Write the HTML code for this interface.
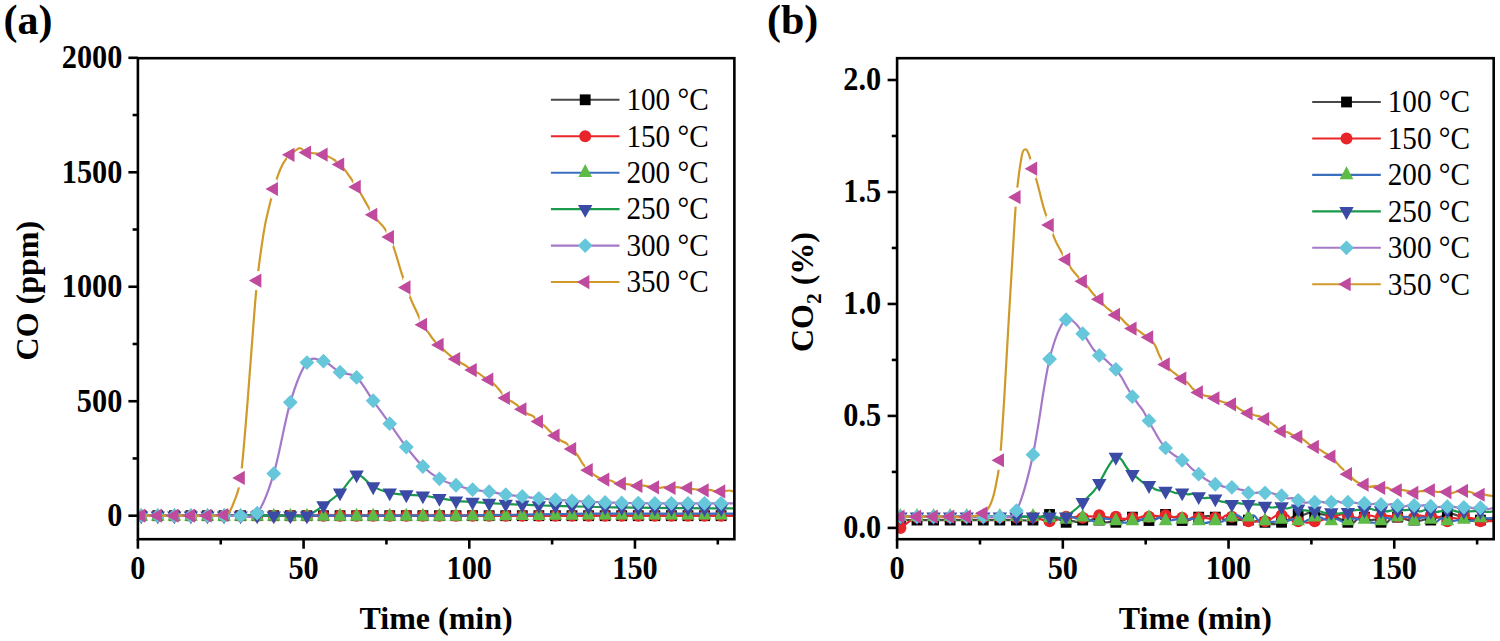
<!DOCTYPE html>
<html><head><meta charset="utf-8"><style>
html,body{margin:0;padding:0;background:#fff;}
svg{display:block;font-family:"Liberation Serif",serif;}
</style></head><body>
<svg width="1500" height="641" viewBox="0 0 1500 641">
<rect width="1500" height="641" fill="#fff"/>
<defs><clipPath id="ca"><rect x="137.90" y="58.20" width="596.47" height="481.00"/></clipPath>
<clipPath id="cb"><rect x="897.10" y="58.20" width="596.59" height="481.00"/></clipPath></defs>
<g clip-path="url(#ca)"><path d="M137.90,515.70 C138.45,515.70 137.90,515.70 141.21,515.70 C144.53,515.70 152.26,515.70 157.78,515.70 C163.31,515.70 168.83,515.70 174.35,515.70 C179.87,515.70 185.40,515.70 190.92,515.70 C196.44,515.70 201.96,515.70 207.49,515.70 C213.01,515.70 218.53,515.70 224.06,515.70 C229.58,515.70 235.10,515.70 240.62,515.70 C246.15,515.70 251.67,515.70 257.19,515.70 C262.72,515.70 268.24,515.70 273.76,515.70 C279.28,515.70 284.81,515.70 290.33,515.70 C295.85,515.70 301.38,515.70 306.90,515.70 C312.42,515.70 317.94,515.70 323.47,515.70 C328.99,515.70 334.51,515.70 340.04,515.70 C345.56,515.70 351.08,515.70 356.60,515.70 C362.13,515.70 367.65,515.70 373.17,515.70 C378.70,515.70 384.22,515.70 389.74,515.70 C395.26,515.70 400.79,515.70 406.31,515.70 C411.83,515.70 417.36,515.70 422.88,515.70 C428.40,515.70 433.92,515.70 439.45,515.70 C444.97,515.70 450.49,515.70 456.02,515.70 C461.54,515.70 467.06,515.70 472.58,515.70 C478.11,515.70 483.63,515.70 489.15,515.70 C494.68,515.70 500.20,515.70 505.72,515.70 C511.24,515.70 516.77,515.70 522.29,515.70 C527.81,515.70 533.33,515.70 538.86,515.70 C544.38,515.70 549.90,515.70 555.43,515.70 C560.95,515.70 566.47,515.70 571.99,515.70 C577.52,515.70 583.04,515.70 588.56,515.70 C594.09,515.70 599.61,515.70 605.13,515.70 C610.65,515.70 616.18,515.70 621.70,515.70 C627.22,515.70 632.75,515.70 638.27,515.70 C643.79,515.70 649.31,515.70 654.84,515.70 C660.36,515.70 665.88,515.70 671.41,515.70 C676.93,515.70 682.45,515.70 687.97,515.70 C693.50,515.70 699.02,515.70 704.54,515.70 C710.07,515.70 716.14,515.70 721.11,515.70 C726.08,515.70 732.16,515.70 734.37,515.70" fill="none" stroke="#484848" stroke-width="2.2" stroke-linejoin="round"/>
<rect x="135.81" y="510.30" width="10.80" height="10.80" fill="#000000"/>
<rect x="152.38" y="510.30" width="10.80" height="10.80" fill="#000000"/>
<rect x="168.95" y="510.30" width="10.80" height="10.80" fill="#000000"/>
<rect x="185.52" y="510.30" width="10.80" height="10.80" fill="#000000"/>
<rect x="202.09" y="510.30" width="10.80" height="10.80" fill="#000000"/>
<rect x="218.66" y="510.30" width="10.80" height="10.80" fill="#000000"/>
<rect x="235.22" y="510.30" width="10.80" height="10.80" fill="#000000"/>
<rect x="251.79" y="510.30" width="10.80" height="10.80" fill="#000000"/>
<rect x="268.36" y="510.30" width="10.80" height="10.80" fill="#000000"/>
<rect x="284.93" y="510.30" width="10.80" height="10.80" fill="#000000"/>
<rect x="301.50" y="510.30" width="10.80" height="10.80" fill="#000000"/>
<rect x="318.07" y="510.30" width="10.80" height="10.80" fill="#000000"/>
<rect x="334.64" y="510.30" width="10.80" height="10.80" fill="#000000"/>
<rect x="351.20" y="510.30" width="10.80" height="10.80" fill="#000000"/>
<rect x="367.77" y="510.30" width="10.80" height="10.80" fill="#000000"/>
<rect x="384.34" y="510.30" width="10.80" height="10.80" fill="#000000"/>
<rect x="400.91" y="510.30" width="10.80" height="10.80" fill="#000000"/>
<rect x="417.48" y="510.30" width="10.80" height="10.80" fill="#000000"/>
<rect x="434.05" y="510.30" width="10.80" height="10.80" fill="#000000"/>
<rect x="450.62" y="510.30" width="10.80" height="10.80" fill="#000000"/>
<rect x="467.18" y="510.30" width="10.80" height="10.80" fill="#000000"/>
<rect x="483.75" y="510.30" width="10.80" height="10.80" fill="#000000"/>
<rect x="500.32" y="510.30" width="10.80" height="10.80" fill="#000000"/>
<rect x="516.89" y="510.30" width="10.80" height="10.80" fill="#000000"/>
<rect x="533.46" y="510.30" width="10.80" height="10.80" fill="#000000"/>
<rect x="550.03" y="510.30" width="10.80" height="10.80" fill="#000000"/>
<rect x="566.59" y="510.30" width="10.80" height="10.80" fill="#000000"/>
<rect x="583.16" y="510.30" width="10.80" height="10.80" fill="#000000"/>
<rect x="599.73" y="510.30" width="10.80" height="10.80" fill="#000000"/>
<rect x="616.30" y="510.30" width="10.80" height="10.80" fill="#000000"/>
<rect x="632.87" y="510.30" width="10.80" height="10.80" fill="#000000"/>
<rect x="649.44" y="510.30" width="10.80" height="10.80" fill="#000000"/>
<rect x="666.01" y="510.30" width="10.80" height="10.80" fill="#000000"/>
<rect x="682.57" y="510.30" width="10.80" height="10.80" fill="#000000"/>
<rect x="699.14" y="510.30" width="10.80" height="10.80" fill="#000000"/>
<rect x="715.71" y="510.30" width="10.80" height="10.80" fill="#000000"/>
<path d="M137.90,515.70 C138.45,515.70 137.90,515.70 141.21,515.70 C144.53,515.70 152.26,515.70 157.78,515.70 C163.31,515.70 168.83,515.70 174.35,515.70 C179.87,515.70 185.40,515.70 190.92,515.70 C196.44,515.70 201.96,515.70 207.49,515.70 C213.01,515.70 218.53,515.70 224.06,515.70 C229.58,515.70 235.10,515.70 240.62,515.70 C246.15,515.70 251.67,515.70 257.19,515.70 C262.72,515.70 268.24,515.70 273.76,515.70 C279.28,515.70 284.81,515.70 290.33,515.70 C295.85,515.70 301.38,515.70 306.90,515.70 C312.42,515.70 317.94,515.70 323.47,515.70 C328.99,515.70 334.51,515.70 340.04,515.70 C345.56,515.70 351.08,515.70 356.60,515.70 C362.13,515.70 367.65,515.70 373.17,515.70 C378.70,515.70 384.22,515.70 389.74,515.70 C395.26,515.70 400.79,515.70 406.31,515.70 C411.83,515.70 417.36,515.70 422.88,515.70 C428.40,515.70 433.92,515.70 439.45,515.70 C444.97,515.70 450.49,515.70 456.02,515.70 C461.54,515.70 467.06,515.70 472.58,515.70 C478.11,515.70 483.63,515.70 489.15,515.70 C494.68,515.70 500.20,515.70 505.72,515.70 C511.24,515.70 516.77,515.70 522.29,515.70 C527.81,515.70 533.33,515.70 538.86,515.70 C544.38,515.70 549.90,515.70 555.43,515.70 C560.95,515.70 566.47,515.70 571.99,515.70 C577.52,515.70 583.04,515.70 588.56,515.70 C594.09,515.70 599.61,515.70 605.13,515.70 C610.65,515.70 616.18,515.70 621.70,515.70 C627.22,515.70 632.75,515.70 638.27,515.70 C643.79,515.70 649.31,515.70 654.84,515.70 C660.36,515.70 665.88,515.70 671.41,515.70 C676.93,515.70 682.45,515.70 687.97,515.70 C693.50,515.70 699.02,515.70 704.54,515.70 C710.07,515.70 716.14,515.70 721.11,515.70 C726.08,515.70 732.16,515.70 734.37,515.70" fill="none" stroke="#e8262a" stroke-width="2.2" stroke-linejoin="round"/>
<circle cx="141.21" cy="515.70" r="6.00" fill="#e8262a"/>
<circle cx="157.78" cy="515.70" r="6.00" fill="#e8262a"/>
<circle cx="174.35" cy="515.70" r="6.00" fill="#e8262a"/>
<circle cx="190.92" cy="515.70" r="6.00" fill="#e8262a"/>
<circle cx="207.49" cy="515.70" r="6.00" fill="#e8262a"/>
<circle cx="224.06" cy="515.70" r="6.00" fill="#e8262a"/>
<circle cx="240.62" cy="515.70" r="6.00" fill="#e8262a"/>
<circle cx="257.19" cy="515.70" r="6.00" fill="#e8262a"/>
<circle cx="273.76" cy="515.70" r="6.00" fill="#e8262a"/>
<circle cx="290.33" cy="515.70" r="6.00" fill="#e8262a"/>
<circle cx="306.90" cy="515.70" r="6.00" fill="#e8262a"/>
<circle cx="323.47" cy="515.70" r="6.00" fill="#e8262a"/>
<circle cx="340.04" cy="515.70" r="6.00" fill="#e8262a"/>
<circle cx="356.60" cy="515.70" r="6.00" fill="#e8262a"/>
<circle cx="373.17" cy="515.70" r="6.00" fill="#e8262a"/>
<circle cx="389.74" cy="515.70" r="6.00" fill="#e8262a"/>
<circle cx="406.31" cy="515.70" r="6.00" fill="#e8262a"/>
<circle cx="422.88" cy="515.70" r="6.00" fill="#e8262a"/>
<circle cx="439.45" cy="515.70" r="6.00" fill="#e8262a"/>
<circle cx="456.02" cy="515.70" r="6.00" fill="#e8262a"/>
<circle cx="472.58" cy="515.70" r="6.00" fill="#e8262a"/>
<circle cx="489.15" cy="515.70" r="6.00" fill="#e8262a"/>
<circle cx="505.72" cy="515.70" r="6.00" fill="#e8262a"/>
<circle cx="522.29" cy="515.70" r="6.00" fill="#e8262a"/>
<circle cx="538.86" cy="515.70" r="6.00" fill="#e8262a"/>
<circle cx="555.43" cy="515.70" r="6.00" fill="#e8262a"/>
<circle cx="571.99" cy="515.70" r="6.00" fill="#e8262a"/>
<circle cx="588.56" cy="515.70" r="6.00" fill="#e8262a"/>
<circle cx="605.13" cy="515.70" r="6.00" fill="#e8262a"/>
<circle cx="621.70" cy="515.70" r="6.00" fill="#e8262a"/>
<circle cx="638.27" cy="515.70" r="6.00" fill="#e8262a"/>
<circle cx="654.84" cy="515.70" r="6.00" fill="#e8262a"/>
<circle cx="671.41" cy="515.70" r="6.00" fill="#e8262a"/>
<circle cx="687.97" cy="515.70" r="6.00" fill="#e8262a"/>
<circle cx="704.54" cy="515.70" r="6.00" fill="#e8262a"/>
<circle cx="721.11" cy="515.70" r="6.00" fill="#e8262a"/>
<path d="M137.90,515.70 C138.45,515.70 137.90,515.70 141.21,515.70 C144.53,515.70 152.26,515.70 157.78,515.70 C163.31,515.70 168.83,515.70 174.35,515.70 C179.87,515.70 185.40,515.70 190.92,515.70 C196.44,515.70 201.96,515.70 207.49,515.70 C213.01,515.70 218.53,515.70 224.06,515.70 C229.58,515.70 235.10,515.70 240.62,515.70 C246.15,515.70 251.67,515.70 257.19,515.70 C262.72,515.70 268.24,515.70 273.76,515.70 C279.28,515.70 284.81,515.70 290.33,515.70 C295.85,515.70 301.38,515.70 306.90,515.70 C312.42,515.70 317.94,515.70 323.47,515.70 C328.99,515.70 334.51,515.70 340.04,515.70 C345.56,515.70 351.08,515.70 356.60,515.70 C362.13,515.70 367.65,515.70 373.17,515.70 C378.70,515.70 384.22,515.70 389.74,515.70 C395.26,515.70 400.79,515.70 406.31,515.70 C411.83,515.70 417.36,515.70 422.88,515.70 C428.40,515.70 433.92,515.71 439.45,515.70 C444.97,515.69 450.49,515.70 456.02,515.65 C461.54,515.60 467.06,515.48 472.58,515.39 C478.11,515.31 483.63,515.22 489.15,515.13 C494.68,515.05 500.20,514.96 505.72,514.88 C511.24,514.79 516.77,514.70 522.29,514.62 C527.81,514.53 533.33,514.45 538.86,514.36 C544.38,514.27 549.90,514.19 555.43,514.10 C560.95,514.02 566.47,513.92 571.99,513.85 C577.52,513.77 583.04,513.67 588.56,513.64 C594.09,513.61 599.61,513.64 605.13,513.64 C610.65,513.64 616.18,513.64 621.70,513.64 C627.22,513.64 632.75,513.64 638.27,513.64 C643.79,513.64 649.31,513.64 654.84,513.64 C660.36,513.64 665.88,513.64 671.41,513.64 C676.93,513.64 682.45,513.64 687.97,513.64 C693.50,513.64 699.02,513.64 704.54,513.64 C710.07,513.64 716.14,513.64 721.11,513.64 C726.08,513.64 732.16,513.64 734.37,513.64" fill="none" stroke="#3a6fc0" stroke-width="2.2" stroke-linejoin="round"/>
<polygon points="141.21,507.72 148.01,520.72 134.41,520.72" fill="#5dbb46"/>
<polygon points="157.78,507.72 164.58,520.72 150.98,520.72" fill="#5dbb46"/>
<polygon points="174.35,507.72 181.15,520.72 167.55,520.72" fill="#5dbb46"/>
<polygon points="190.92,507.72 197.72,520.72 184.12,520.72" fill="#5dbb46"/>
<polygon points="207.49,507.72 214.29,520.72 200.69,520.72" fill="#5dbb46"/>
<polygon points="224.06,507.72 230.86,520.72 217.26,520.72" fill="#5dbb46"/>
<polygon points="240.62,507.72 247.42,520.72 233.82,520.72" fill="#5dbb46"/>
<polygon points="257.19,507.72 263.99,520.72 250.39,520.72" fill="#5dbb46"/>
<polygon points="273.76,507.72 280.56,520.72 266.96,520.72" fill="#5dbb46"/>
<polygon points="290.33,507.72 297.13,520.72 283.53,520.72" fill="#5dbb46"/>
<polygon points="306.90,507.72 313.70,520.72 300.10,520.72" fill="#5dbb46"/>
<polygon points="323.47,507.72 330.27,520.72 316.67,520.72" fill="#5dbb46"/>
<polygon points="340.04,507.72 346.84,520.72 333.24,520.72" fill="#5dbb46"/>
<polygon points="356.60,507.72 363.40,520.72 349.80,520.72" fill="#5dbb46"/>
<polygon points="373.17,507.72 379.97,520.72 366.37,520.72" fill="#5dbb46"/>
<polygon points="389.74,507.72 396.54,520.72 382.94,520.72" fill="#5dbb46"/>
<polygon points="406.31,507.72 413.11,520.72 399.51,520.72" fill="#5dbb46"/>
<polygon points="422.88,507.72 429.68,520.72 416.08,520.72" fill="#5dbb46"/>
<polygon points="439.45,507.72 446.25,520.72 432.65,520.72" fill="#5dbb46"/>
<polygon points="456.02,507.69 462.82,520.69 449.22,520.69" fill="#5dbb46"/>
<polygon points="472.58,507.55 479.38,520.55 465.78,520.55" fill="#5dbb46"/>
<polygon points="489.15,507.41 495.95,520.41 482.35,520.41" fill="#5dbb46"/>
<polygon points="505.72,507.26 512.52,520.26 498.92,520.26" fill="#5dbb46"/>
<polygon points="522.29,507.12 529.09,520.12 515.49,520.12" fill="#5dbb46"/>
<polygon points="538.86,506.98 545.66,519.98 532.06,519.98" fill="#5dbb46"/>
<polygon points="555.43,506.83 562.23,519.83 548.63,519.83" fill="#5dbb46"/>
<polygon points="571.99,506.69 578.79,519.69 565.19,519.69" fill="#5dbb46"/>
<polygon points="588.56,506.58 595.36,519.58 581.76,519.58" fill="#5dbb46"/>
<polygon points="605.13,506.58 611.93,519.58 598.33,519.58" fill="#5dbb46"/>
<polygon points="621.70,506.58 628.50,519.58 614.90,519.58" fill="#5dbb46"/>
<polygon points="638.27,506.58 645.07,519.58 631.47,519.58" fill="#5dbb46"/>
<polygon points="654.84,506.58 661.64,519.58 648.04,519.58" fill="#5dbb46"/>
<polygon points="671.41,506.58 678.21,519.58 664.61,519.58" fill="#5dbb46"/>
<polygon points="687.97,506.58 694.77,519.58 681.17,519.58" fill="#5dbb46"/>
<polygon points="704.54,506.58 711.34,519.58 697.74,519.58" fill="#5dbb46"/>
<polygon points="721.11,506.58 727.91,519.58 714.31,519.58" fill="#5dbb46"/>
<path d="M137.90,515.70 C138.45,515.70 137.90,515.70 141.21,515.70 C144.53,515.70 152.26,515.70 157.78,515.70 C163.31,515.70 168.83,515.70 174.35,515.70 C179.87,515.70 185.40,515.70 190.92,515.70 C196.44,515.70 201.96,515.70 207.49,515.70 C213.01,515.70 218.53,515.70 224.06,515.70 C229.58,515.70 235.10,515.70 240.62,515.70 C246.15,515.70 251.67,515.70 257.19,515.70 C262.72,515.70 268.24,515.70 273.76,515.70 C279.28,515.70 284.81,515.70 290.33,515.70 C295.85,515.70 301.38,517.42 306.90,515.70 C312.42,513.98 317.94,509.21 323.47,505.40 C328.99,501.58 334.51,497.92 340.04,492.81 C345.56,487.69 351.08,475.75 356.60,474.72 C362.13,473.69 367.65,483.61 373.17,486.62 C378.70,489.64 384.22,491.47 389.74,492.81 C395.26,494.14 400.79,494.14 406.31,494.64 C411.83,495.13 417.36,495.17 422.88,495.78 C428.40,496.39 433.92,497.46 439.45,498.30 C444.97,499.14 450.49,500.21 456.02,500.82 C461.54,501.43 467.06,501.58 472.58,501.96 C478.11,502.34 483.63,502.76 489.15,503.11 C494.68,503.45 500.20,503.76 505.72,504.02 C511.24,504.29 516.77,504.48 522.29,504.71 C527.81,504.94 533.33,505.21 538.86,505.40 C544.38,505.59 549.90,505.70 555.43,505.86 C560.95,506.01 566.47,506.16 571.99,506.31 C577.52,506.47 583.04,506.62 588.56,506.77 C594.09,506.92 599.61,507.11 605.13,507.23 C610.65,507.34 616.18,507.38 621.70,507.46 C627.22,507.53 632.75,507.61 638.27,507.69 C643.79,507.76 649.31,507.84 654.84,507.92 C660.36,507.99 665.88,508.11 671.41,508.14 C676.93,508.18 682.45,508.11 687.97,508.14 C693.50,508.18 699.02,508.34 704.54,508.37 C710.07,508.41 716.14,508.37 721.11,508.37 C726.08,508.37 732.16,508.37 734.37,508.37" fill="none" stroke="#1a9a4a" stroke-width="2.2" stroke-linejoin="round"/>
<polygon points="134.01,511.43 148.41,511.43 141.21,524.23" fill="#3b4aa5"/>
<polygon points="150.58,511.43 164.98,511.43 157.78,524.23" fill="#3b4aa5"/>
<polygon points="167.15,511.43 181.55,511.43 174.35,524.23" fill="#3b4aa5"/>
<polygon points="183.72,511.43 198.12,511.43 190.92,524.23" fill="#3b4aa5"/>
<polygon points="200.29,511.43 214.69,511.43 207.49,524.23" fill="#3b4aa5"/>
<polygon points="216.86,511.43 231.26,511.43 224.06,524.23" fill="#3b4aa5"/>
<polygon points="233.42,511.43 247.82,511.43 240.62,524.23" fill="#3b4aa5"/>
<polygon points="249.99,511.43 264.39,511.43 257.19,524.23" fill="#3b4aa5"/>
<polygon points="266.56,511.43 280.96,511.43 273.76,524.23" fill="#3b4aa5"/>
<polygon points="283.13,511.43 297.53,511.43 290.33,524.23" fill="#3b4aa5"/>
<polygon points="299.70,511.43 314.10,511.43 306.90,524.23" fill="#3b4aa5"/>
<polygon points="316.27,501.13 330.67,501.13 323.47,513.93" fill="#3b4aa5"/>
<polygon points="332.84,488.54 347.24,488.54 340.04,501.34" fill="#3b4aa5"/>
<polygon points="349.40,470.45 363.80,470.45 356.60,483.25" fill="#3b4aa5"/>
<polygon points="365.97,482.36 380.37,482.36 373.17,495.16" fill="#3b4aa5"/>
<polygon points="382.54,488.54 396.94,488.54 389.74,501.34" fill="#3b4aa5"/>
<polygon points="399.11,490.37 413.51,490.37 406.31,503.17" fill="#3b4aa5"/>
<polygon points="415.68,491.51 430.08,491.51 422.88,504.31" fill="#3b4aa5"/>
<polygon points="432.25,494.03 446.65,494.03 439.45,506.83" fill="#3b4aa5"/>
<polygon points="448.82,496.55 463.22,496.55 456.02,509.35" fill="#3b4aa5"/>
<polygon points="465.38,497.70 479.78,497.70 472.58,510.50" fill="#3b4aa5"/>
<polygon points="481.95,498.84 496.35,498.84 489.15,511.64" fill="#3b4aa5"/>
<polygon points="498.52,499.76 512.92,499.76 505.72,512.56" fill="#3b4aa5"/>
<polygon points="515.09,500.44 529.49,500.44 522.29,513.24" fill="#3b4aa5"/>
<polygon points="531.66,501.13 546.06,501.13 538.86,513.93" fill="#3b4aa5"/>
<polygon points="548.23,501.59 562.63,501.59 555.43,514.39" fill="#3b4aa5"/>
<polygon points="564.79,502.05 579.19,502.05 571.99,514.85" fill="#3b4aa5"/>
<polygon points="581.36,502.50 595.76,502.50 588.56,515.30" fill="#3b4aa5"/>
<polygon points="597.93,502.96 612.33,502.96 605.13,515.76" fill="#3b4aa5"/>
<polygon points="614.50,503.19 628.90,503.19 621.70,515.99" fill="#3b4aa5"/>
<polygon points="631.07,503.42 645.47,503.42 638.27,516.22" fill="#3b4aa5"/>
<polygon points="647.64,503.65 662.04,503.65 654.84,516.45" fill="#3b4aa5"/>
<polygon points="664.21,503.88 678.61,503.88 671.41,516.68" fill="#3b4aa5"/>
<polygon points="680.77,503.88 695.17,503.88 687.97,516.68" fill="#3b4aa5"/>
<polygon points="697.34,504.11 711.74,504.11 704.54,516.91" fill="#3b4aa5"/>
<polygon points="713.91,504.11 728.31,504.11 721.11,516.91" fill="#3b4aa5"/>
<path d="M137.90,515.70 C138.45,515.70 137.90,515.70 141.21,515.70 C144.53,515.70 152.26,515.70 157.78,515.70 C163.31,515.70 168.83,515.70 174.35,515.70 C179.87,515.70 185.40,515.70 190.92,515.70 C196.44,515.70 201.96,515.70 207.49,515.70 C213.01,515.70 218.53,515.70 224.06,515.70 C229.58,515.70 235.10,516.12 240.62,515.70 C246.15,515.28 251.67,520.20 257.19,513.18 C262.72,506.16 268.24,492.04 273.76,473.57 C279.28,455.10 284.81,420.88 290.33,402.37 C295.85,383.86 301.38,369.40 306.90,362.53 C312.42,355.66 317.94,359.56 323.47,361.16 C328.99,362.76 334.51,369.44 340.04,372.15 C345.56,374.86 351.08,372.64 356.60,377.41 C362.13,382.18 367.65,393.06 373.17,400.77 C378.70,408.48 384.22,415.95 389.74,423.66 C395.26,431.37 400.79,439.88 406.31,447.02 C411.83,454.15 417.36,461.17 422.88,466.48 C428.40,471.78 433.92,475.71 439.45,478.84 C444.97,481.97 450.49,483.46 456.02,485.25 C461.54,487.04 467.06,488.53 472.58,489.60 C478.11,490.67 483.63,490.82 489.15,491.66 C494.68,492.50 500.20,493.84 505.72,494.64 C511.24,495.44 516.77,495.86 522.29,496.47 C527.81,497.08 533.33,497.77 538.86,498.30 C544.38,498.83 549.90,499.25 555.43,499.67 C560.95,500.09 566.47,500.47 571.99,500.82 C577.52,501.16 583.04,501.47 588.56,501.73 C594.09,502.00 599.61,502.23 605.13,502.42 C610.65,502.61 616.18,502.76 621.70,502.88 C627.22,502.99 632.75,503.03 638.27,503.11 C643.79,503.18 649.31,503.30 654.84,503.34 C660.36,503.37 665.88,503.34 671.41,503.34 C676.93,503.34 682.45,503.34 687.97,503.34 C693.50,503.34 699.02,503.34 704.54,503.34 C710.07,503.34 716.14,503.34 721.11,503.34 C726.08,503.34 732.16,503.34 734.37,503.34" fill="none" stroke="#a678c8" stroke-width="2.2" stroke-linejoin="round"/>
<polygon points="141.21,508.30 148.61,515.70 141.21,523.10 133.81,515.70" fill="#66c6da"/>
<polygon points="157.78,508.30 165.18,515.70 157.78,523.10 150.38,515.70" fill="#66c6da"/>
<polygon points="174.35,508.30 181.75,515.70 174.35,523.10 166.95,515.70" fill="#66c6da"/>
<polygon points="190.92,508.30 198.32,515.70 190.92,523.10 183.52,515.70" fill="#66c6da"/>
<polygon points="207.49,508.30 214.89,515.70 207.49,523.10 200.09,515.70" fill="#66c6da"/>
<polygon points="224.06,508.30 231.46,515.70 224.06,523.10 216.66,515.70" fill="#66c6da"/>
<polygon points="240.62,508.30 248.02,515.70 240.62,523.10 233.22,515.70" fill="#66c6da"/>
<polygon points="257.19,505.78 264.59,513.18 257.19,520.58 249.79,513.18" fill="#66c6da"/>
<polygon points="273.76,466.17 281.16,473.57 273.76,480.97 266.36,473.57" fill="#66c6da"/>
<polygon points="290.33,394.97 297.73,402.37 290.33,409.77 282.93,402.37" fill="#66c6da"/>
<polygon points="306.90,355.13 314.30,362.53 306.90,369.93 299.50,362.53" fill="#66c6da"/>
<polygon points="323.47,353.76 330.87,361.16 323.47,368.56 316.07,361.16" fill="#66c6da"/>
<polygon points="340.04,364.75 347.44,372.15 340.04,379.55 332.64,372.15" fill="#66c6da"/>
<polygon points="356.60,370.01 364.00,377.41 356.60,384.81 349.20,377.41" fill="#66c6da"/>
<polygon points="373.17,393.37 380.57,400.77 373.17,408.17 365.77,400.77" fill="#66c6da"/>
<polygon points="389.74,416.26 397.14,423.66 389.74,431.06 382.34,423.66" fill="#66c6da"/>
<polygon points="406.31,439.62 413.71,447.02 406.31,454.42 398.91,447.02" fill="#66c6da"/>
<polygon points="422.88,459.08 430.28,466.48 422.88,473.88 415.48,466.48" fill="#66c6da"/>
<polygon points="439.45,471.44 446.85,478.84 439.45,486.24 432.05,478.84" fill="#66c6da"/>
<polygon points="456.02,477.85 463.42,485.25 456.02,492.65 448.62,485.25" fill="#66c6da"/>
<polygon points="472.58,482.20 479.98,489.60 472.58,497.00 465.18,489.60" fill="#66c6da"/>
<polygon points="489.15,484.26 496.55,491.66 489.15,499.06 481.75,491.66" fill="#66c6da"/>
<polygon points="505.72,487.24 513.12,494.64 505.72,502.04 498.32,494.64" fill="#66c6da"/>
<polygon points="522.29,489.07 529.69,496.47 522.29,503.87 514.89,496.47" fill="#66c6da"/>
<polygon points="538.86,490.90 546.26,498.30 538.86,505.70 531.46,498.30" fill="#66c6da"/>
<polygon points="555.43,492.27 562.83,499.67 555.43,507.07 548.03,499.67" fill="#66c6da"/>
<polygon points="571.99,493.42 579.39,500.82 571.99,508.22 564.59,500.82" fill="#66c6da"/>
<polygon points="588.56,494.33 595.96,501.73 588.56,509.13 581.16,501.73" fill="#66c6da"/>
<polygon points="605.13,495.02 612.53,502.42 605.13,509.82 597.73,502.42" fill="#66c6da"/>
<polygon points="621.70,495.48 629.10,502.88 621.70,510.28 614.30,502.88" fill="#66c6da"/>
<polygon points="638.27,495.71 645.67,503.11 638.27,510.51 630.87,503.11" fill="#66c6da"/>
<polygon points="654.84,495.94 662.24,503.34 654.84,510.74 647.44,503.34" fill="#66c6da"/>
<polygon points="671.41,495.94 678.81,503.34 671.41,510.74 664.01,503.34" fill="#66c6da"/>
<polygon points="687.97,495.94 695.37,503.34 687.97,510.74 680.57,503.34" fill="#66c6da"/>
<polygon points="704.54,495.94 711.94,503.34 704.54,510.74 697.14,503.34" fill="#66c6da"/>
<polygon points="721.11,495.94 728.51,503.34 721.11,510.74 713.71,503.34" fill="#66c6da"/>
<mask id="max350" maskUnits="userSpaceOnUse" x="0" y="0" width="1500" height="641"><rect width="1500" height="641" fill="#fff"/><rect x="137.91" y="506.20" width="6.60" height="19.00" fill="#000"/><rect x="154.48" y="506.20" width="6.60" height="19.00" fill="#000"/><rect x="171.05" y="506.20" width="6.60" height="19.00" fill="#000"/><rect x="187.62" y="506.20" width="6.60" height="19.00" fill="#000"/><rect x="204.19" y="506.20" width="6.60" height="19.00" fill="#000"/><rect x="220.76" y="505.51" width="6.60" height="19.00" fill="#000"/><rect x="237.32" y="468.42" width="6.60" height="19.00" fill="#000"/><rect x="253.89" y="271.07" width="6.60" height="19.00" fill="#000"/><rect x="270.46" y="179.49" width="6.60" height="19.00" fill="#000"/><rect x="287.03" y="145.37" width="6.60" height="19.00" fill="#000"/><rect x="303.60" y="143.09" width="6.60" height="19.00" fill="#000"/><rect x="320.17" y="145.15" width="6.60" height="19.00" fill="#000"/><rect x="336.74" y="154.99" width="6.60" height="19.00" fill="#000"/><rect x="353.30" y="177.43" width="6.60" height="19.00" fill="#000"/><rect x="369.87" y="205.36" width="6.60" height="19.00" fill="#000"/><rect x="386.44" y="227.57" width="6.60" height="19.00" fill="#000"/><rect x="403.01" y="277.94" width="6.60" height="19.00" fill="#000"/><rect x="419.58" y="315.26" width="6.60" height="19.00" fill="#000"/><rect x="436.15" y="335.40" width="6.60" height="19.00" fill="#000"/><rect x="452.72" y="349.60" width="6.60" height="19.00" fill="#000"/><rect x="469.28" y="360.59" width="6.60" height="19.00" fill="#000"/><rect x="485.85" y="370.20" width="6.60" height="19.00" fill="#000"/><rect x="502.42" y="388.52" width="6.60" height="19.00" fill="#000"/><rect x="518.99" y="399.74" width="6.60" height="19.00" fill="#000"/><rect x="535.56" y="412.10" width="6.60" height="19.00" fill="#000"/><rect x="552.13" y="426.07" width="6.60" height="19.00" fill="#000"/><rect x="568.69" y="439.58" width="6.60" height="19.00" fill="#000"/><rect x="585.26" y="460.64" width="6.60" height="19.00" fill="#000"/><rect x="601.83" y="470.03" width="6.60" height="19.00" fill="#000"/><rect x="618.40" y="474.15" width="6.60" height="19.00" fill="#000"/><rect x="634.97" y="476.44" width="6.60" height="19.00" fill="#000"/><rect x="651.54" y="477.81" width="6.60" height="19.00" fill="#000"/><rect x="668.11" y="478.50" width="6.60" height="19.00" fill="#000"/><rect x="684.67" y="478.50" width="6.60" height="19.00" fill="#000"/><rect x="701.24" y="480.79" width="6.60" height="19.00" fill="#000"/><rect x="717.81" y="481.93" width="6.60" height="19.00" fill="#000"/></mask>
<path d="M137.90,515.70 C138.45,515.70 139.90,515.70 141.21,515.70 C142.52,515.70 144.00,515.70 145.75,515.70 C147.51,515.70 149.76,515.70 151.77,515.70 C153.77,515.70 155.86,515.70 157.78,515.70 C159.70,515.70 161.46,515.70 163.31,515.70 C165.15,515.70 166.99,515.70 168.83,515.70 C170.67,515.70 172.51,515.70 174.35,515.70 C176.19,515.70 178.03,515.70 179.87,515.70 C181.71,515.70 183.56,515.70 185.40,515.70 C187.24,515.70 189.08,515.70 190.92,515.70 C192.76,515.70 194.60,515.71 196.44,515.72 C198.28,515.72 200.12,515.74 201.96,515.73 C203.81,515.73 205.58,515.71 207.49,515.70 C209.40,515.69 211.46,515.69 213.44,515.67 C215.42,515.66 217.62,515.67 219.39,515.60 C221.16,515.53 222.45,515.80 224.06,515.24 C225.66,514.69 227.37,514.48 229.03,512.27 C230.68,510.05 232.06,507.69 234.00,501.96 C235.93,496.24 238.42,493.95 240.62,477.92 C242.83,461.90 245.32,428.74 247.25,405.80 C249.19,382.87 250.57,361.20 252.22,340.32 C253.88,319.45 255.26,298.66 257.19,280.57 C259.13,262.48 261.90,243.76 263.82,231.80 C265.74,219.84 267.03,215.96 268.69,208.82 C270.34,201.69 272.21,194.60 273.76,188.99 C275.31,183.38 276.63,179.11 278.01,175.18 C279.39,171.25 280.70,168.09 282.05,165.41 C283.39,162.72 284.70,160.84 286.08,159.08 C287.47,157.33 288.78,156.28 290.33,154.87 C291.88,153.47 293.75,151.73 295.40,150.62 C297.06,149.52 298.36,147.91 300.27,148.24 C302.19,148.56 305.00,151.77 306.90,152.59 C308.80,153.40 309.91,153.01 311.69,153.15 C313.46,153.30 315.61,153.22 317.58,153.47 C319.54,153.72 321.56,154.08 323.47,154.65 C325.37,155.22 327.15,155.99 328.99,156.88 C330.83,157.77 332.67,158.72 334.51,159.99 C336.35,161.26 338.19,162.68 340.04,164.49 C341.88,166.30 343.72,168.49 345.56,170.83 C347.40,173.18 349.24,175.89 351.08,178.58 C352.92,181.26 354.76,184.02 356.60,186.93 C358.45,189.84 360.29,192.90 362.13,196.04 C363.97,199.18 365.81,202.63 367.65,205.77 C369.49,208.91 371.33,212.21 373.17,214.86 C375.01,217.51 376.85,219.49 378.70,221.64 C380.54,223.80 382.38,225.22 384.22,227.79 C386.06,230.36 387.90,232.99 389.74,237.07 C391.58,241.15 393.42,246.67 395.26,252.25 C397.10,257.84 398.95,264.71 400.79,270.57 C402.63,276.43 404.47,282.29 406.31,287.44 C408.15,292.59 409.99,297.18 411.83,301.48 C413.67,305.78 415.51,309.19 417.36,313.23 C419.20,317.27 421.04,322.46 422.88,325.70 C424.72,328.93 426.56,330.20 428.40,332.63 C430.24,335.06 432.08,338.14 433.92,340.27 C435.76,342.40 437.61,343.60 439.45,345.40 C441.29,347.19 443.13,349.30 444.97,351.03 C446.81,352.77 448.65,354.33 450.49,355.80 C452.33,357.27 454.17,358.62 456.02,359.85 C457.86,361.09 459.70,362.08 461.54,363.19 C463.38,364.31 465.22,365.27 467.06,366.54 C468.90,367.81 470.74,369.73 472.58,370.81 C474.42,371.89 476.27,371.99 478.11,373.02 C479.95,374.06 481.79,375.80 483.63,377.01 C485.47,378.21 487.31,378.96 489.15,380.25 C490.99,381.54 492.83,382.96 494.68,384.75 C496.52,386.55 498.36,388.82 500.20,391.01 C502.04,393.20 503.88,396.18 505.72,397.89 C507.56,399.59 509.40,400.06 511.24,401.24 C513.08,402.42 514.93,403.48 516.77,404.97 C518.61,406.46 520.45,408.65 522.29,410.17 C524.13,411.69 525.97,413.06 527.81,414.08 C529.65,415.10 531.49,414.84 533.33,416.27 C535.18,417.70 537.02,421.05 538.86,422.65 C540.70,424.24 542.54,424.40 544.38,425.84 C546.22,427.28 548.06,429.58 549.90,431.27 C551.74,432.95 553.59,434.39 555.43,435.96 C557.27,437.52 559.11,439.41 560.95,440.65 C562.79,441.90 564.63,441.94 566.47,443.43 C568.31,444.93 570.15,447.65 571.99,449.62 C573.84,451.60 575.68,452.86 577.52,455.28 C579.36,457.70 581.20,461.71 583.04,464.16 C584.88,466.62 586.72,468.20 588.56,470.00 C590.40,471.81 592.25,473.63 594.09,474.99 C595.93,476.35 597.77,477.31 599.61,478.16 C601.45,479.01 603.29,479.71 605.13,480.10 C606.97,480.50 608.81,480.01 610.65,480.50 C612.50,481.00 614.34,482.45 616.18,483.07 C618.02,483.68 619.86,484.03 621.70,484.21 C623.54,484.38 625.38,483.99 627.22,484.14 C629.06,484.30 630.90,484.88 632.75,485.13 C634.59,485.38 636.43,485.56 638.27,485.64 C640.11,485.72 641.95,485.45 643.79,485.62 C645.63,485.80 647.47,486.50 649.31,486.70 C651.16,486.89 653.00,486.60 654.84,486.78 C656.68,486.96 658.52,487.79 660.36,487.78 C662.20,487.78 664.04,486.70 665.88,486.76 C667.72,486.83 669.56,488.09 671.41,488.16 C673.25,488.24 675.09,487.24 676.93,487.21 C678.77,487.18 680.61,487.70 682.45,487.97 C684.29,488.24 686.13,488.62 687.97,488.82 C689.82,489.02 691.66,489.02 693.50,489.15 C695.34,489.27 697.18,489.26 699.02,489.56 C700.86,489.85 702.68,490.85 704.54,490.90 C706.40,490.94 708.31,489.67 710.19,489.82 C712.07,489.96 714.01,491.47 715.83,491.77 C717.65,492.06 718.95,491.82 721.11,491.60 C723.27,491.39 726.56,490.47 728.77,490.48 C730.98,490.49 733.43,491.46 734.37,491.66" fill="none" stroke="#d09a2a" stroke-width="2.2" stroke-linejoin="round" mask="url(#max350)"/>
<polygon points="132.88,515.70 145.38,508.60 145.38,522.80" fill="#c04a9e"/>
<polygon points="149.45,515.70 161.95,508.60 161.95,522.80" fill="#c04a9e"/>
<polygon points="166.02,515.70 178.52,508.60 178.52,522.80" fill="#c04a9e"/>
<polygon points="182.59,515.70 195.09,508.60 195.09,522.80" fill="#c04a9e"/>
<polygon points="199.15,515.70 211.65,508.60 211.65,522.80" fill="#c04a9e"/>
<polygon points="215.72,515.01 228.22,507.91 228.22,522.11" fill="#c04a9e"/>
<polygon points="232.29,477.92 244.79,470.82 244.79,485.02" fill="#c04a9e"/>
<polygon points="248.86,280.57 261.36,273.47 261.36,287.67" fill="#c04a9e"/>
<polygon points="265.43,188.99 277.93,181.89 277.93,196.09" fill="#c04a9e"/>
<polygon points="282.00,154.87 294.50,147.77 294.50,161.97" fill="#c04a9e"/>
<polygon points="298.57,152.59 311.07,145.49 311.07,159.69" fill="#c04a9e"/>
<polygon points="315.13,154.65 327.63,147.55 327.63,161.75" fill="#c04a9e"/>
<polygon points="331.70,164.49 344.20,157.39 344.20,171.59" fill="#c04a9e"/>
<polygon points="348.27,186.93 360.77,179.83 360.77,194.03" fill="#c04a9e"/>
<polygon points="364.84,214.86 377.34,207.76 377.34,221.96" fill="#c04a9e"/>
<polygon points="381.41,237.07 393.91,229.97 393.91,244.17" fill="#c04a9e"/>
<polygon points="397.98,287.44 410.48,280.34 410.48,294.54" fill="#c04a9e"/>
<polygon points="414.54,324.76 427.04,317.66 427.04,331.86" fill="#c04a9e"/>
<polygon points="431.11,344.90 443.61,337.80 443.61,352.00" fill="#c04a9e"/>
<polygon points="447.68,359.10 460.18,352.00 460.18,366.20" fill="#c04a9e"/>
<polygon points="464.25,370.09 476.75,362.99 476.75,377.19" fill="#c04a9e"/>
<polygon points="480.82,379.70 493.32,372.60 493.32,386.80" fill="#c04a9e"/>
<polygon points="497.39,398.02 509.89,390.92 509.89,405.12" fill="#c04a9e"/>
<polygon points="513.96,409.24 526.46,402.14 526.46,416.34" fill="#c04a9e"/>
<polygon points="530.52,421.60 543.02,414.50 543.02,428.70" fill="#c04a9e"/>
<polygon points="547.09,435.57 559.59,428.47 559.59,442.67" fill="#c04a9e"/>
<polygon points="563.66,449.08 576.16,441.98 576.16,456.18" fill="#c04a9e"/>
<polygon points="580.23,470.14 592.73,463.04 592.73,477.24" fill="#c04a9e"/>
<polygon points="596.80,479.53 609.30,472.43 609.30,486.63" fill="#c04a9e"/>
<polygon points="613.37,483.65 625.87,476.55 625.87,490.75" fill="#c04a9e"/>
<polygon points="629.94,485.94 642.44,478.84 642.44,493.04" fill="#c04a9e"/>
<polygon points="646.50,487.31 659.00,480.21 659.00,494.41" fill="#c04a9e"/>
<polygon points="663.07,488.00 675.57,480.90 675.57,495.10" fill="#c04a9e"/>
<polygon points="679.64,488.00 692.14,480.90 692.14,495.10" fill="#c04a9e"/>
<polygon points="696.21,490.29 708.71,483.19 708.71,497.39" fill="#c04a9e"/>
<polygon points="712.78,491.43 725.28,484.33 725.28,498.53" fill="#c04a9e"/></g>
<g clip-path="url(#cb)"><path d="M897.10,520.06 C897.65,520.06 899.11,520.06 900.41,520.06 C901.72,520.06 903.20,520.06 904.96,520.06 C906.72,520.06 908.97,520.06 910.97,520.06 C912.98,520.06 915.06,520.06 916.99,520.06 C918.91,520.06 920.67,520.06 922.51,520.06 C924.35,520.06 926.19,520.06 928.03,520.06 C929.88,520.06 931.72,520.06 933.56,520.06 C935.40,520.06 937.24,520.06 939.08,520.06 C940.92,520.06 942.77,520.06 944.61,520.06 C946.45,520.06 948.29,520.06 950.13,520.06 C951.97,520.06 953.81,520.06 955.65,520.06 C957.50,520.06 959.34,520.06 961.18,520.06 C963.02,520.06 964.86,520.06 966.70,520.06 C968.54,520.06 970.39,520.06 972.23,520.06 C974.07,520.06 975.91,520.06 977.75,520.06 C979.59,520.06 981.43,520.06 983.27,520.06 C985.12,520.06 986.96,520.06 988.80,520.06 C990.64,520.06 992.48,520.06 994.32,520.06 C996.16,520.06 998.01,520.06 999.85,520.06 C1001.69,520.06 1003.53,520.06 1005.37,520.06 C1007.21,520.06 1009.05,520.06 1010.89,520.06 C1012.74,520.06 1014.58,520.03 1016.42,520.06 C1018.26,520.10 1020.10,520.20 1021.94,520.27 C1023.78,520.34 1025.63,520.51 1027.47,520.48 C1029.31,520.44 1031.15,520.46 1032.99,520.06 C1034.83,519.67 1036.67,518.87 1038.51,518.11 C1040.36,517.36 1042.20,516.35 1044.04,515.54 C1045.88,514.73 1047.72,512.87 1049.56,513.25 C1051.40,513.63 1053.25,516.69 1055.09,517.80 C1056.93,518.91 1058.77,519.14 1060.61,519.91 C1062.45,520.68 1064.29,522.27 1066.13,522.41 C1067.98,522.56 1069.82,520.88 1071.66,520.80 C1073.50,520.73 1075.34,522.19 1077.18,521.97 C1079.02,521.75 1080.87,519.62 1082.71,519.49 C1084.55,519.37 1086.39,521.34 1088.23,521.21 C1090.07,521.09 1091.91,519.09 1093.75,518.77 C1095.60,518.45 1097.44,518.69 1099.28,519.28 C1101.12,519.87 1102.96,521.90 1104.80,522.34 C1106.64,522.78 1108.49,522.08 1110.33,521.93 C1112.17,521.79 1114.01,521.60 1115.85,521.46 C1117.69,521.32 1119.53,521.51 1121.37,521.08 C1123.22,520.65 1125.06,519.78 1126.90,518.86 C1128.74,517.94 1130.58,515.43 1132.42,515.57 C1134.26,515.71 1136.11,518.98 1137.95,519.70 C1139.79,520.41 1141.63,519.48 1143.47,519.84 C1145.31,520.21 1147.15,521.96 1148.99,521.88 C1150.84,521.80 1152.68,520.19 1154.52,519.37 C1156.36,518.54 1158.20,518.02 1160.04,516.93 C1161.88,515.84 1163.73,512.82 1165.57,512.83 C1167.41,512.83 1169.25,516.27 1171.09,516.96 C1172.93,517.66 1174.77,516.58 1176.61,517.00 C1178.46,517.42 1180.30,518.89 1182.14,519.50 C1183.98,520.10 1185.82,520.81 1187.66,520.64 C1189.50,520.47 1191.35,518.82 1193.19,518.48 C1195.03,518.14 1196.87,518.94 1198.71,518.59 C1200.55,518.25 1202.39,516.86 1204.23,516.43 C1206.08,515.99 1207.92,516.16 1209.76,516.00 C1211.60,515.83 1213.44,515.19 1215.28,515.45 C1217.12,515.70 1218.97,516.66 1220.81,517.53 C1222.65,518.39 1224.49,520.46 1226.33,520.64 C1228.17,520.83 1230.01,518.80 1231.85,518.65 C1233.70,518.50 1235.54,519.55 1237.38,519.74 C1239.22,519.93 1241.06,519.87 1242.90,519.78 C1244.74,519.70 1246.59,518.93 1248.43,519.25 C1250.27,519.56 1252.11,521.49 1253.95,521.67 C1255.79,521.84 1257.63,520.10 1259.47,520.29 C1261.32,520.47 1263.16,522.14 1265.00,522.77 C1266.84,523.40 1268.68,523.86 1270.52,524.05 C1272.36,524.24 1274.21,524.37 1276.05,523.89 C1277.89,523.41 1279.73,521.77 1281.57,521.16 C1283.41,520.55 1285.25,520.95 1287.09,520.25 C1288.94,519.54 1290.78,517.62 1292.62,516.96 C1294.46,516.29 1296.30,516.60 1298.14,516.23 C1299.98,515.87 1301.83,515.33 1303.67,514.79 C1305.51,514.24 1307.35,513.13 1309.19,512.96 C1311.03,512.79 1312.87,513.56 1314.71,513.76 C1316.56,513.95 1318.40,513.97 1320.24,514.14 C1322.08,514.31 1323.92,514.79 1325.76,514.78 C1327.60,514.77 1329.45,513.63 1331.29,514.09 C1333.13,514.54 1334.97,516.51 1336.81,517.51 C1338.65,518.50 1340.49,519.03 1342.33,520.05 C1344.18,521.07 1346.02,523.18 1347.86,523.62 C1349.70,524.07 1351.54,523.78 1353.38,522.72 C1355.22,521.67 1357.07,518.38 1358.91,517.28 C1360.75,516.18 1362.59,515.68 1364.43,516.12 C1366.27,516.56 1368.11,519.32 1369.95,519.92 C1371.80,520.52 1373.64,519.43 1375.48,519.72 C1377.32,520.00 1379.16,521.12 1381.00,521.63 C1382.84,522.14 1384.69,523.47 1386.53,522.78 C1388.37,522.09 1390.21,518.21 1392.05,517.49 C1393.89,516.76 1395.73,518.25 1397.57,518.43 C1399.42,518.61 1401.26,518.30 1403.10,518.58 C1404.94,518.85 1406.78,520.11 1408.62,520.08 C1410.46,520.05 1412.31,518.31 1414.15,518.41 C1415.99,518.50 1417.83,520.47 1419.67,520.62 C1421.51,520.77 1423.35,519.44 1425.19,519.31 C1427.04,519.18 1428.88,520.09 1430.72,519.84 C1432.56,519.59 1434.40,518.34 1436.24,517.80 C1438.08,517.27 1439.93,517.33 1441.77,516.63 C1443.61,515.93 1445.45,514.04 1447.29,513.58 C1449.13,513.13 1450.97,513.50 1452.81,513.91 C1454.66,514.31 1456.50,515.40 1458.34,516.00 C1460.18,516.60 1462.00,516.96 1463.86,517.52 C1465.72,518.08 1467.63,519.00 1469.51,519.37 C1471.39,519.75 1473.34,519.45 1475.16,519.78 C1476.98,520.11 1478.28,521.51 1480.43,521.37 C1482.59,521.22 1485.89,519.14 1488.10,518.92 C1490.31,518.70 1492.76,519.87 1493.69,520.06" fill="none" stroke="#484848" stroke-width="2.2" stroke-linejoin="round"/>
<rect x="895.01" y="514.66" width="10.80" height="10.80" fill="#000000"/>
<rect x="911.59" y="514.66" width="10.80" height="10.80" fill="#000000"/>
<rect x="928.16" y="514.66" width="10.80" height="10.80" fill="#000000"/>
<rect x="944.73" y="514.66" width="10.80" height="10.80" fill="#000000"/>
<rect x="961.30" y="514.66" width="10.80" height="10.80" fill="#000000"/>
<rect x="977.87" y="514.66" width="10.80" height="10.80" fill="#000000"/>
<rect x="994.45" y="514.66" width="10.80" height="10.80" fill="#000000"/>
<rect x="1011.02" y="514.66" width="10.80" height="10.80" fill="#000000"/>
<rect x="1027.59" y="514.66" width="10.80" height="10.80" fill="#000000"/>
<rect x="1044.16" y="509.06" width="10.80" height="10.80" fill="#000000"/>
<rect x="1060.73" y="516.90" width="10.80" height="10.80" fill="#000000"/>
<rect x="1077.31" y="514.66" width="10.80" height="10.80" fill="#000000"/>
<rect x="1093.88" y="514.66" width="10.80" height="10.80" fill="#000000"/>
<rect x="1110.45" y="516.90" width="10.80" height="10.80" fill="#000000"/>
<rect x="1127.02" y="511.75" width="10.80" height="10.80" fill="#000000"/>
<rect x="1143.59" y="515.11" width="10.80" height="10.80" fill="#000000"/>
<rect x="1160.17" y="509.06" width="10.80" height="10.80" fill="#000000"/>
<rect x="1176.74" y="515.11" width="10.80" height="10.80" fill="#000000"/>
<rect x="1193.31" y="511.75" width="10.80" height="10.80" fill="#000000"/>
<rect x="1209.88" y="511.75" width="10.80" height="10.80" fill="#000000"/>
<rect x="1226.45" y="514.66" width="10.80" height="10.80" fill="#000000"/>
<rect x="1243.03" y="514.66" width="10.80" height="10.80" fill="#000000"/>
<rect x="1259.60" y="516.90" width="10.80" height="10.80" fill="#000000"/>
<rect x="1276.17" y="516.90" width="10.80" height="10.80" fill="#000000"/>
<rect x="1292.74" y="509.06" width="10.80" height="10.80" fill="#000000"/>
<rect x="1309.31" y="509.06" width="10.80" height="10.80" fill="#000000"/>
<rect x="1325.89" y="509.06" width="10.80" height="10.80" fill="#000000"/>
<rect x="1342.46" y="516.90" width="10.80" height="10.80" fill="#000000"/>
<rect x="1359.03" y="511.75" width="10.80" height="10.80" fill="#000000"/>
<rect x="1375.60" y="516.90" width="10.80" height="10.80" fill="#000000"/>
<rect x="1392.17" y="511.75" width="10.80" height="10.80" fill="#000000"/>
<rect x="1408.75" y="514.66" width="10.80" height="10.80" fill="#000000"/>
<rect x="1425.32" y="514.66" width="10.80" height="10.80" fill="#000000"/>
<rect x="1441.89" y="509.06" width="10.80" height="10.80" fill="#000000"/>
<rect x="1458.46" y="511.75" width="10.80" height="10.80" fill="#000000"/>
<rect x="1475.03" y="514.66" width="10.80" height="10.80" fill="#000000"/>
<path d="M897.10,527.90 C897.65,527.90 899.11,528.43 900.41,527.90 C901.72,527.37 903.20,525.98 904.96,524.71 C906.72,523.45 908.97,521.60 910.97,520.34 C912.98,519.07 915.06,517.81 916.99,517.15 C918.91,516.49 920.67,516.42 922.51,516.35 C924.35,516.29 926.19,516.62 928.03,516.75 C929.88,516.88 931.72,517.08 933.56,517.15 C935.40,517.22 937.24,517.15 939.08,517.15 C940.92,517.15 942.77,517.15 944.61,517.15 C946.45,517.15 948.29,517.15 950.13,517.15 C951.97,517.15 953.81,517.15 955.65,517.15 C957.50,517.15 959.34,517.15 961.18,517.15 C963.02,517.15 964.86,517.15 966.70,517.15 C968.54,517.15 970.39,517.15 972.23,517.15 C974.07,517.15 975.91,517.15 977.75,517.15 C979.59,517.15 981.43,517.15 983.27,517.15 C985.12,517.15 986.96,517.15 988.80,517.15 C990.64,517.15 992.48,517.15 994.32,517.15 C996.16,517.15 998.01,517.15 999.85,517.15 C1001.69,517.15 1003.53,517.15 1005.37,517.15 C1007.21,517.15 1009.05,517.15 1010.89,517.15 C1012.74,517.15 1014.58,517.18 1016.42,517.15 C1018.26,517.13 1020.10,517.05 1021.94,517.00 C1023.78,516.95 1025.63,516.83 1027.47,516.85 C1029.31,516.88 1031.15,516.87 1032.99,517.15 C1034.83,517.43 1036.67,517.98 1038.51,518.51 C1040.36,519.04 1042.20,520.00 1044.04,520.32 C1045.88,520.63 1047.72,520.35 1049.56,520.40 C1051.40,520.45 1053.25,521.02 1055.09,520.62 C1056.93,520.22 1058.77,518.36 1060.61,518.00 C1062.45,517.64 1064.29,518.53 1066.13,518.45 C1067.98,518.38 1069.82,517.84 1071.66,517.54 C1073.50,517.24 1075.34,516.85 1077.18,516.65 C1079.02,516.44 1080.87,516.36 1082.71,516.30 C1084.55,516.24 1086.39,516.25 1088.23,516.30 C1090.07,516.34 1091.91,516.54 1093.75,516.58 C1095.60,516.61 1097.44,516.46 1099.28,516.50 C1101.12,516.55 1102.96,516.67 1104.80,516.86 C1106.64,517.06 1108.49,517.60 1110.33,517.65 C1112.17,517.71 1114.01,517.05 1115.85,517.21 C1117.69,517.38 1119.53,518.35 1121.37,518.64 C1123.22,518.93 1125.06,518.94 1126.90,518.95 C1128.74,518.97 1130.58,518.86 1132.42,518.73 C1134.26,518.59 1136.11,518.50 1137.95,518.12 C1139.79,517.74 1141.63,516.58 1143.47,516.43 C1145.31,516.29 1147.15,517.36 1148.99,517.27 C1150.84,517.17 1152.68,516.03 1154.52,515.86 C1156.36,515.70 1158.20,516.38 1160.04,516.28 C1161.88,516.18 1163.73,515.22 1165.57,515.27 C1167.41,515.32 1169.25,516.22 1171.09,516.58 C1172.93,516.94 1174.77,517.26 1176.61,517.42 C1178.46,517.59 1180.30,517.18 1182.14,517.56 C1183.98,517.94 1185.82,519.77 1187.66,519.70 C1189.50,519.63 1191.35,517.29 1193.19,517.14 C1195.03,516.99 1196.87,518.71 1198.71,518.82 C1200.55,518.94 1202.39,517.89 1204.23,517.85 C1206.08,517.80 1207.92,518.74 1209.76,518.56 C1211.60,518.38 1213.44,516.79 1215.28,516.78 C1217.12,516.76 1218.97,518.72 1220.81,518.46 C1222.65,518.19 1224.49,515.72 1226.33,515.21 C1228.17,514.70 1230.01,515.16 1231.85,515.41 C1233.70,515.65 1235.54,515.94 1237.38,516.67 C1239.22,517.40 1241.06,518.83 1242.90,519.79 C1244.74,520.75 1246.59,522.22 1248.43,522.46 C1250.27,522.69 1252.11,521.33 1253.95,521.21 C1255.79,521.09 1257.63,521.73 1259.47,521.73 C1261.32,521.72 1263.16,521.60 1265.00,521.17 C1266.84,520.74 1268.68,520.06 1270.52,519.15 C1272.36,518.25 1274.21,516.46 1276.05,515.74 C1277.89,515.01 1279.73,514.95 1281.57,514.83 C1283.41,514.71 1285.25,514.01 1287.09,515.00 C1288.94,516.00 1290.78,519.93 1292.62,520.80 C1294.46,521.67 1296.30,520.04 1298.14,520.21 C1299.98,520.39 1301.83,521.43 1303.67,521.84 C1305.51,522.26 1307.35,522.86 1309.19,522.72 C1311.03,522.57 1312.87,521.29 1314.71,520.97 C1316.56,520.65 1318.40,521.19 1320.24,520.79 C1322.08,520.40 1323.92,519.22 1325.76,518.58 C1327.60,517.95 1329.45,517.47 1331.29,517.00 C1333.13,516.53 1334.97,516.27 1336.81,515.76 C1338.65,515.26 1340.49,514.31 1342.33,513.97 C1344.18,513.63 1346.02,513.23 1347.86,513.72 C1349.70,514.21 1351.54,516.20 1353.38,516.92 C1355.22,517.63 1357.07,518.24 1358.91,518.02 C1360.75,517.81 1362.59,516.04 1364.43,515.62 C1366.27,515.20 1368.11,515.32 1369.95,515.51 C1371.80,515.70 1373.64,516.30 1375.48,516.78 C1377.32,517.26 1379.16,518.55 1381.00,518.39 C1382.84,518.23 1384.69,516.12 1386.53,515.81 C1388.37,515.50 1390.21,516.39 1392.05,516.52 C1393.89,516.65 1395.73,516.22 1397.57,516.60 C1399.42,516.98 1401.26,518.76 1403.10,518.81 C1404.94,518.86 1406.78,516.92 1408.62,516.87 C1410.46,516.83 1412.31,518.71 1414.15,518.53 C1415.99,518.34 1417.83,516.11 1419.67,515.77 C1421.51,515.44 1423.35,516.35 1425.19,516.51 C1427.04,516.67 1428.88,516.74 1430.72,516.73 C1432.56,516.71 1434.40,516.08 1436.24,516.39 C1438.08,516.70 1439.93,517.56 1441.77,518.57 C1443.61,519.58 1445.45,522.52 1447.29,522.45 C1449.13,522.39 1450.97,518.85 1452.81,518.18 C1454.66,517.51 1456.50,519.05 1458.34,518.45 C1460.18,517.86 1462.00,514.71 1463.86,514.61 C1465.72,514.51 1467.63,517.16 1469.51,517.87 C1471.39,518.58 1473.34,518.09 1475.16,518.86 C1476.98,519.62 1478.28,522.06 1480.43,522.45 C1482.59,522.85 1485.89,521.43 1488.10,521.22 C1490.31,521.00 1492.76,521.19 1493.69,521.18" fill="none" stroke="#e8262a" stroke-width="2.2" stroke-linejoin="round"/>
<circle cx="900.41" cy="527.90" r="6.00" fill="#e8262a"/>
<circle cx="916.99" cy="517.15" r="6.00" fill="#e8262a"/>
<circle cx="933.56" cy="517.15" r="6.00" fill="#e8262a"/>
<circle cx="950.13" cy="517.15" r="6.00" fill="#e8262a"/>
<circle cx="966.70" cy="517.15" r="6.00" fill="#e8262a"/>
<circle cx="983.27" cy="517.15" r="6.00" fill="#e8262a"/>
<circle cx="999.85" cy="517.15" r="6.00" fill="#e8262a"/>
<circle cx="1016.42" cy="517.15" r="6.00" fill="#e8262a"/>
<circle cx="1032.99" cy="517.15" r="6.00" fill="#e8262a"/>
<circle cx="1049.56" cy="521.18" r="6.00" fill="#e8262a"/>
<circle cx="1066.13" cy="516.70" r="6.00" fill="#e8262a"/>
<circle cx="1082.71" cy="517.82" r="6.00" fill="#e8262a"/>
<circle cx="1099.28" cy="515.36" r="6.00" fill="#e8262a"/>
<circle cx="1115.85" cy="516.70" r="6.00" fill="#e8262a"/>
<circle cx="1132.42" cy="517.82" r="6.00" fill="#e8262a"/>
<circle cx="1148.99" cy="516.70" r="6.00" fill="#e8262a"/>
<circle cx="1165.57" cy="515.36" r="6.00" fill="#e8262a"/>
<circle cx="1182.14" cy="517.82" r="6.00" fill="#e8262a"/>
<circle cx="1198.71" cy="517.82" r="6.00" fill="#e8262a"/>
<circle cx="1215.28" cy="517.82" r="6.00" fill="#e8262a"/>
<circle cx="1231.85" cy="516.70" r="6.00" fill="#e8262a"/>
<circle cx="1248.43" cy="521.18" r="6.00" fill="#e8262a"/>
<circle cx="1265.00" cy="521.18" r="6.00" fill="#e8262a"/>
<circle cx="1281.57" cy="515.36" r="6.00" fill="#e8262a"/>
<circle cx="1298.14" cy="521.18" r="6.00" fill="#e8262a"/>
<circle cx="1314.71" cy="521.18" r="6.00" fill="#e8262a"/>
<circle cx="1331.29" cy="515.36" r="6.00" fill="#e8262a"/>
<circle cx="1347.86" cy="515.36" r="6.00" fill="#e8262a"/>
<circle cx="1364.43" cy="516.70" r="6.00" fill="#e8262a"/>
<circle cx="1381.00" cy="516.70" r="6.00" fill="#e8262a"/>
<circle cx="1397.57" cy="516.70" r="6.00" fill="#e8262a"/>
<circle cx="1414.15" cy="517.82" r="6.00" fill="#e8262a"/>
<circle cx="1430.72" cy="515.36" r="6.00" fill="#e8262a"/>
<circle cx="1447.29" cy="521.18" r="6.00" fill="#e8262a"/>
<circle cx="1463.86" cy="515.36" r="6.00" fill="#e8262a"/>
<circle cx="1480.43" cy="521.18" r="6.00" fill="#e8262a"/>
<path d="M897.10,516.70 C897.65,516.70 899.11,516.70 900.41,516.70 C901.72,516.70 903.20,516.70 904.96,516.70 C906.72,516.70 908.97,516.70 910.97,516.70 C912.98,516.70 915.06,516.70 916.99,516.70 C918.91,516.70 920.67,516.70 922.51,516.70 C924.35,516.70 926.19,516.70 928.03,516.70 C929.88,516.70 931.72,516.70 933.56,516.70 C935.40,516.70 937.24,516.70 939.08,516.70 C940.92,516.70 942.77,516.70 944.61,516.70 C946.45,516.70 948.29,516.70 950.13,516.70 C951.97,516.70 953.81,516.70 955.65,516.70 C957.50,516.70 959.34,516.70 961.18,516.70 C963.02,516.70 964.86,516.70 966.70,516.70 C968.54,516.70 970.39,516.70 972.23,516.70 C974.07,516.70 975.91,516.70 977.75,516.70 C979.59,516.70 981.43,516.70 983.27,516.70 C985.12,516.70 986.96,516.70 988.80,516.70 C990.64,516.70 992.48,516.70 994.32,516.70 C996.16,516.70 998.01,516.70 999.85,516.70 C1001.69,516.70 1003.53,516.70 1005.37,516.70 C1007.21,516.70 1009.05,516.70 1010.89,516.70 C1012.74,516.70 1014.58,516.71 1016.42,516.70 C1018.26,516.70 1020.10,516.67 1021.94,516.66 C1023.78,516.65 1025.63,516.61 1027.47,516.62 C1029.31,516.63 1031.15,516.64 1032.99,516.70 C1034.83,516.76 1036.67,516.86 1038.51,516.98 C1040.36,517.09 1042.20,516.86 1044.04,517.37 C1045.88,517.89 1047.72,520.23 1049.56,520.05 C1051.40,519.86 1053.25,516.36 1055.09,516.26 C1056.93,516.17 1058.77,519.39 1060.61,519.48 C1062.45,519.56 1064.29,517.22 1066.13,516.79 C1067.98,516.36 1069.82,516.56 1071.66,516.89 C1073.50,517.22 1075.34,518.78 1077.18,518.77 C1079.02,518.75 1080.87,516.75 1082.71,516.80 C1084.55,516.84 1086.39,518.30 1088.23,519.06 C1090.07,519.81 1091.91,521.44 1093.75,521.33 C1095.60,521.21 1097.44,518.84 1099.28,518.38 C1101.12,517.92 1102.96,518.42 1104.80,518.57 C1106.64,518.72 1108.49,518.91 1110.33,519.29 C1112.17,519.67 1114.01,520.30 1115.85,520.86 C1117.69,521.41 1119.53,522.33 1121.37,522.62 C1123.22,522.91 1125.06,522.62 1126.90,522.61 C1128.74,522.59 1130.58,522.70 1132.42,522.52 C1134.26,522.34 1136.11,522.19 1137.95,521.53 C1139.79,520.88 1141.63,518.85 1143.47,518.61 C1145.31,518.37 1147.15,519.86 1148.99,520.10 C1150.84,520.34 1152.68,520.43 1154.52,520.03 C1156.36,519.64 1158.20,517.64 1160.04,517.71 C1161.88,517.78 1163.73,520.00 1165.57,520.47 C1167.41,520.94 1169.25,520.75 1171.09,520.53 C1172.93,520.31 1174.77,519.61 1176.61,519.13 C1178.46,518.66 1180.30,517.62 1182.14,517.66 C1183.98,517.70 1185.82,519.19 1187.66,519.38 C1189.50,519.57 1191.35,518.26 1193.19,518.80 C1195.03,519.33 1196.87,521.89 1198.71,522.59 C1200.55,523.30 1202.39,523.11 1204.23,523.03 C1206.08,522.96 1207.92,522.79 1209.76,522.16 C1211.60,521.54 1213.44,519.32 1215.28,519.29 C1217.12,519.25 1218.97,522.01 1220.81,521.96 C1222.65,521.90 1224.49,520.00 1226.33,518.97 C1228.17,517.95 1230.01,516.41 1231.85,515.81 C1233.70,515.21 1235.54,514.91 1237.38,515.36 C1239.22,515.81 1241.06,517.79 1242.90,518.49 C1244.74,519.19 1246.59,520.04 1248.43,519.57 C1250.27,519.10 1252.11,515.31 1253.95,515.69 C1255.79,516.07 1257.63,520.56 1259.47,521.83 C1261.32,523.11 1263.16,523.31 1265.00,523.33 C1266.84,523.34 1268.68,522.24 1270.52,521.93 C1272.36,521.61 1274.21,522.04 1276.05,521.44 C1277.89,520.85 1279.73,518.46 1281.57,518.36 C1283.41,518.26 1285.25,520.67 1287.09,520.86 C1288.94,521.05 1290.78,519.20 1292.62,519.48 C1294.46,519.76 1296.30,522.12 1298.14,522.53 C1299.98,522.94 1301.83,522.48 1303.67,521.95 C1305.51,521.42 1307.35,520.30 1309.19,519.36 C1311.03,518.43 1312.87,516.69 1314.71,516.34 C1316.56,515.98 1318.40,516.67 1320.24,517.24 C1322.08,517.82 1323.92,519.36 1325.76,519.79 C1327.60,520.21 1329.45,519.93 1331.29,519.81 C1333.13,519.69 1334.97,518.76 1336.81,519.08 C1338.65,519.39 1340.49,521.30 1342.33,521.72 C1344.18,522.13 1346.02,522.13 1347.86,521.56 C1349.70,521.00 1351.54,518.69 1353.38,518.33 C1355.22,517.96 1357.07,519.22 1358.91,519.38 C1360.75,519.53 1362.59,518.80 1364.43,519.28 C1366.27,519.76 1368.11,521.72 1369.95,522.25 C1371.80,522.78 1373.64,522.94 1375.48,522.48 C1377.32,522.01 1379.16,520.22 1381.00,519.46 C1382.84,518.69 1384.69,517.92 1386.53,517.88 C1388.37,517.84 1390.21,518.94 1392.05,519.23 C1393.89,519.52 1395.73,519.92 1397.57,519.60 C1399.42,519.27 1401.26,517.71 1403.10,517.30 C1404.94,516.89 1406.78,516.36 1408.62,517.15 C1410.46,517.93 1412.31,521.86 1414.15,522.00 C1415.99,522.15 1417.83,518.77 1419.67,518.03 C1421.51,517.30 1423.35,517.02 1425.19,517.57 C1427.04,518.13 1428.88,520.62 1430.72,521.35 C1432.56,522.08 1434.40,522.50 1436.24,521.95 C1438.08,521.40 1439.93,518.03 1441.77,518.05 C1443.61,518.08 1445.45,521.59 1447.29,522.12 C1449.13,522.65 1450.97,521.56 1452.81,521.24 C1454.66,520.92 1456.50,520.13 1458.34,520.19 C1460.18,520.25 1462.00,521.47 1463.86,521.61 C1465.72,521.76 1467.63,521.26 1469.51,521.07 C1471.39,520.88 1473.34,521.09 1475.16,520.47 C1476.98,519.84 1478.28,517.68 1480.43,517.31 C1482.59,516.95 1485.89,518.19 1488.10,518.28 C1490.31,518.36 1492.76,517.90 1493.69,517.82" fill="none" stroke="#3a6fc0" stroke-width="2.2" stroke-linejoin="round"/>
<polygon points="900.41,508.04 907.21,521.04 893.61,521.04" fill="#5dbb46"/>
<polygon points="916.99,508.04 923.79,521.04 910.19,521.04" fill="#5dbb46"/>
<polygon points="933.56,508.04 940.36,521.04 926.76,521.04" fill="#5dbb46"/>
<polygon points="950.13,508.04 956.93,521.04 943.33,521.04" fill="#5dbb46"/>
<polygon points="966.70,508.04 973.50,521.04 959.90,521.04" fill="#5dbb46"/>
<polygon points="983.27,508.04 990.07,521.04 976.47,521.04" fill="#5dbb46"/>
<polygon points="999.85,508.04 1006.65,521.04 993.05,521.04" fill="#5dbb46"/>
<polygon points="1016.42,508.04 1023.22,521.04 1009.62,521.04" fill="#5dbb46"/>
<polygon points="1032.99,508.04 1039.79,521.04 1026.19,521.04" fill="#5dbb46"/>
<polygon points="1049.56,509.16 1056.36,522.16 1042.76,522.16" fill="#5dbb46"/>
<polygon points="1066.13,510.72 1072.93,523.72 1059.33,523.72" fill="#5dbb46"/>
<polygon points="1082.71,508.48 1089.51,521.48 1075.91,521.48" fill="#5dbb46"/>
<polygon points="1099.28,512.29 1106.08,525.29 1092.48,525.29" fill="#5dbb46"/>
<polygon points="1115.85,512.29 1122.65,525.29 1109.05,525.29" fill="#5dbb46"/>
<polygon points="1132.42,512.29 1139.22,525.29 1125.62,525.29" fill="#5dbb46"/>
<polygon points="1148.99,509.16 1155.79,522.16 1142.19,522.16" fill="#5dbb46"/>
<polygon points="1165.57,512.29 1172.37,525.29 1158.77,525.29" fill="#5dbb46"/>
<polygon points="1182.14,510.72 1188.94,523.72 1175.34,523.72" fill="#5dbb46"/>
<polygon points="1198.71,512.29 1205.51,525.29 1191.91,525.29" fill="#5dbb46"/>
<polygon points="1215.28,512.29 1222.08,525.29 1208.48,525.29" fill="#5dbb46"/>
<polygon points="1231.85,508.48 1238.65,521.48 1225.05,521.48" fill="#5dbb46"/>
<polygon points="1248.43,508.48 1255.23,521.48 1241.63,521.48" fill="#5dbb46"/>
<polygon points="1265.00,512.29 1271.80,525.29 1258.20,525.29" fill="#5dbb46"/>
<polygon points="1281.57,510.72 1288.37,523.72 1274.77,523.72" fill="#5dbb46"/>
<polygon points="1298.14,512.29 1304.94,525.29 1291.34,525.29" fill="#5dbb46"/>
<polygon points="1314.71,508.48 1321.51,521.48 1307.91,521.48" fill="#5dbb46"/>
<polygon points="1331.29,512.29 1338.09,525.29 1324.49,525.29" fill="#5dbb46"/>
<polygon points="1347.86,512.29 1354.66,525.29 1341.06,525.29" fill="#5dbb46"/>
<polygon points="1364.43,510.72 1371.23,523.72 1357.63,523.72" fill="#5dbb46"/>
<polygon points="1381.00,512.29 1387.80,525.29 1374.20,525.29" fill="#5dbb46"/>
<polygon points="1397.57,508.48 1404.37,521.48 1390.77,521.48" fill="#5dbb46"/>
<polygon points="1414.15,512.29 1420.95,525.29 1407.35,525.29" fill="#5dbb46"/>
<polygon points="1430.72,510.72 1437.52,523.72 1423.92,523.72" fill="#5dbb46"/>
<polygon points="1447.29,512.29 1454.09,525.29 1440.49,525.29" fill="#5dbb46"/>
<polygon points="1463.86,510.72 1470.66,523.72 1457.06,523.72" fill="#5dbb46"/>
<polygon points="1480.43,509.16 1487.23,522.16 1473.63,522.16" fill="#5dbb46"/>
<path d="M897.10,516.70 C897.65,516.70 899.11,516.70 900.41,516.70 C901.72,516.70 903.20,516.70 904.96,516.70 C906.72,516.70 908.97,516.70 910.97,516.70 C912.98,516.70 915.06,516.70 916.99,516.70 C918.91,516.70 920.67,516.70 922.51,516.70 C924.35,516.70 926.19,516.70 928.03,516.70 C929.88,516.70 931.72,516.70 933.56,516.70 C935.40,516.70 937.24,516.70 939.08,516.70 C940.92,516.70 942.77,516.70 944.61,516.70 C946.45,516.70 948.29,516.70 950.13,516.70 C951.97,516.70 953.81,516.70 955.65,516.70 C957.50,516.70 959.34,516.70 961.18,516.70 C963.02,516.70 964.86,516.70 966.70,516.70 C968.54,516.70 970.39,516.70 972.23,516.70 C974.07,516.70 975.91,516.70 977.75,516.70 C979.59,516.70 981.43,516.70 983.27,516.70 C985.12,516.70 986.96,516.70 988.80,516.70 C990.64,516.70 992.48,516.70 994.32,516.70 C996.16,516.70 998.01,516.70 999.85,516.70 C1001.69,516.70 1003.53,516.70 1005.37,516.70 C1007.21,516.70 1009.05,516.70 1010.89,516.70 C1012.74,516.70 1014.58,516.70 1016.42,516.70 C1018.26,516.70 1020.10,516.70 1021.94,516.70 C1023.78,516.70 1025.63,516.70 1027.47,516.70 C1029.31,516.70 1031.15,516.70 1032.99,516.70 C1034.83,516.70 1036.67,516.70 1038.51,516.70 C1040.36,516.70 1042.20,516.70 1044.04,516.70 C1045.88,516.70 1047.72,516.61 1049.56,516.70 C1051.40,516.79 1053.25,517.06 1055.09,517.24 C1056.93,517.42 1058.77,517.92 1060.61,517.78 C1062.45,517.64 1064.29,517.31 1066.13,516.39 C1067.98,515.47 1069.82,513.65 1071.66,512.26 C1073.50,510.86 1075.34,509.62 1077.18,508.00 C1079.02,506.39 1080.87,504.46 1082.71,502.57 C1084.55,500.68 1086.39,498.54 1088.23,496.66 C1090.07,494.77 1091.91,493.54 1093.75,491.27 C1095.60,488.99 1097.44,486.09 1099.28,482.98 C1101.12,479.88 1102.96,475.90 1104.80,472.64 C1106.64,469.37 1108.49,466.08 1110.33,463.41 C1112.17,460.74 1114.01,457.26 1115.85,456.62 C1117.69,455.98 1119.53,457.69 1121.37,459.59 C1123.22,461.48 1125.06,465.53 1126.90,468.01 C1128.74,470.49 1130.58,472.76 1132.42,474.47 C1134.26,476.19 1136.11,476.89 1137.95,478.29 C1139.79,479.70 1141.63,481.89 1143.47,482.90 C1145.31,483.92 1147.15,483.38 1148.99,484.39 C1150.84,485.41 1152.68,487.96 1154.52,489.00 C1156.36,490.04 1158.20,490.41 1160.04,490.61 C1161.88,490.81 1163.73,490.07 1165.57,490.21 C1167.41,490.36 1169.25,490.99 1171.09,491.49 C1172.93,491.99 1174.77,492.99 1176.61,493.21 C1178.46,493.43 1180.30,492.63 1182.14,492.81 C1183.98,492.99 1185.82,494.08 1187.66,494.29 C1189.50,494.49 1191.35,493.53 1193.19,494.04 C1195.03,494.54 1196.87,496.65 1198.71,497.32 C1200.55,498.00 1202.39,498.03 1204.23,498.10 C1206.08,498.18 1207.92,497.60 1209.76,497.80 C1211.60,497.99 1213.44,498.66 1215.28,499.27 C1217.12,499.87 1218.97,500.86 1220.81,501.41 C1222.65,501.97 1224.49,501.95 1226.33,502.60 C1228.17,503.25 1230.01,505.22 1231.85,505.33 C1233.70,505.43 1235.54,503.50 1237.38,503.24 C1239.22,502.98 1241.06,503.50 1242.90,503.77 C1244.74,504.05 1246.59,504.79 1248.43,504.89 C1250.27,505.00 1252.11,504.44 1253.95,504.39 C1255.79,504.34 1257.63,504.49 1259.47,504.62 C1261.32,504.74 1263.16,504.67 1265.00,505.13 C1266.84,505.60 1268.68,507.09 1270.52,507.42 C1272.36,507.75 1274.21,507.17 1276.05,507.09 C1277.89,507.02 1279.73,506.73 1281.57,506.97 C1283.41,507.20 1285.25,508.46 1287.09,508.50 C1288.94,508.53 1290.78,507.01 1292.62,507.18 C1294.46,507.34 1296.30,508.98 1298.14,509.50 C1299.98,510.02 1301.83,510.06 1303.67,510.29 C1305.51,510.53 1307.35,510.84 1309.19,510.91 C1311.03,510.99 1312.87,510.65 1314.71,510.74 C1316.56,510.83 1318.40,511.06 1320.24,511.46 C1322.08,511.86 1323.92,512.85 1325.76,513.13 C1327.60,513.41 1329.45,513.04 1331.29,513.14 C1333.13,513.23 1334.97,513.70 1336.81,513.70 C1338.65,513.71 1340.49,513.29 1342.33,513.16 C1344.18,513.03 1346.02,513.38 1347.86,512.92 C1349.70,512.47 1351.54,510.94 1353.38,510.44 C1355.22,509.93 1357.07,509.95 1358.91,509.89 C1360.75,509.83 1362.59,510.26 1364.43,510.07 C1366.27,509.88 1368.11,508.75 1369.95,508.75 C1371.80,508.75 1373.64,509.90 1375.48,510.09 C1377.32,510.27 1379.16,509.66 1381.00,509.88 C1382.84,510.10 1384.69,511.31 1386.53,511.41 C1388.37,511.50 1390.21,510.57 1392.05,510.47 C1393.89,510.37 1395.73,510.85 1397.57,510.81 C1399.42,510.76 1401.26,510.36 1403.10,510.21 C1404.94,510.06 1406.78,510.12 1408.62,509.91 C1410.46,509.71 1412.31,508.75 1414.15,509.00 C1415.99,509.26 1417.83,511.29 1419.67,511.46 C1421.51,511.62 1423.35,510.25 1425.19,509.99 C1427.04,509.72 1428.88,509.56 1430.72,509.88 C1432.56,510.19 1434.40,511.68 1436.24,511.89 C1438.08,512.09 1439.93,511.42 1441.77,511.09 C1443.61,510.76 1445.45,510.04 1447.29,509.92 C1449.13,509.80 1450.97,510.03 1452.81,510.37 C1454.66,510.70 1456.50,511.68 1458.34,511.92 C1460.18,512.16 1462.00,511.88 1463.86,511.79 C1465.72,511.71 1467.63,511.50 1469.51,511.39 C1471.39,511.28 1473.34,511.18 1475.16,511.12 C1476.98,511.05 1478.28,510.83 1480.43,510.97 C1482.59,511.11 1485.89,511.93 1488.10,511.95 C1490.31,511.97 1492.76,511.24 1493.69,511.10" fill="none" stroke="#1a9a4a" stroke-width="2.2" stroke-linejoin="round"/>
<polygon points="893.21,512.44 907.61,512.44 900.41,525.24" fill="#3b4aa5"/>
<polygon points="909.79,512.44 924.19,512.44 916.99,525.24" fill="#3b4aa5"/>
<polygon points="926.36,512.44 940.76,512.44 933.56,525.24" fill="#3b4aa5"/>
<polygon points="942.93,512.44 957.33,512.44 950.13,525.24" fill="#3b4aa5"/>
<polygon points="959.50,512.44 973.90,512.44 966.70,525.24" fill="#3b4aa5"/>
<polygon points="976.07,512.44 990.47,512.44 983.27,525.24" fill="#3b4aa5"/>
<polygon points="992.65,512.44 1007.05,512.44 999.85,525.24" fill="#3b4aa5"/>
<polygon points="1009.22,512.44 1023.62,512.44 1016.42,525.24" fill="#3b4aa5"/>
<polygon points="1025.79,512.44 1040.19,512.44 1032.99,525.24" fill="#3b4aa5"/>
<polygon points="1042.36,512.44 1056.76,512.44 1049.56,525.24" fill="#3b4aa5"/>
<polygon points="1058.93,512.44 1073.33,512.44 1066.13,525.24" fill="#3b4aa5"/>
<polygon points="1075.51,497.88 1089.91,497.88 1082.71,510.68" fill="#3b4aa5"/>
<polygon points="1092.08,479.07 1106.48,479.07 1099.28,491.87" fill="#3b4aa5"/>
<polygon points="1108.65,452.87 1123.05,452.87 1115.85,465.67" fill="#3b4aa5"/>
<polygon points="1125.22,469.89 1139.62,469.89 1132.42,482.69" fill="#3b4aa5"/>
<polygon points="1141.79,481.08 1156.19,481.08 1148.99,493.88" fill="#3b4aa5"/>
<polygon points="1158.37,486.68 1172.77,486.68 1165.57,499.48" fill="#3b4aa5"/>
<polygon points="1174.94,488.47 1189.34,488.47 1182.14,501.27" fill="#3b4aa5"/>
<polygon points="1191.51,492.28 1205.91,492.28 1198.71,505.08" fill="#3b4aa5"/>
<polygon points="1208.08,494.52 1222.48,494.52 1215.28,507.32" fill="#3b4aa5"/>
<polygon points="1224.65,499.89 1239.05,499.89 1231.85,512.69" fill="#3b4aa5"/>
<polygon points="1241.23,499.89 1255.63,499.89 1248.43,512.69" fill="#3b4aa5"/>
<polygon points="1257.80,501.69 1272.20,501.69 1265.00,514.49" fill="#3b4aa5"/>
<polygon points="1274.37,502.36 1288.77,502.36 1281.57,515.16" fill="#3b4aa5"/>
<polygon points="1290.94,504.60 1305.34,504.60 1298.14,517.40" fill="#3b4aa5"/>
<polygon points="1307.51,506.39 1321.91,506.39 1314.71,519.19" fill="#3b4aa5"/>
<polygon points="1324.09,508.18 1338.49,508.18 1331.29,520.98" fill="#3b4aa5"/>
<polygon points="1340.66,507.96 1355.06,507.96 1347.86,520.76" fill="#3b4aa5"/>
<polygon points="1357.23,505.72 1371.63,505.72 1364.43,518.52" fill="#3b4aa5"/>
<polygon points="1373.80,506.17 1388.20,506.17 1381.00,518.97" fill="#3b4aa5"/>
<polygon points="1390.37,506.17 1404.77,506.17 1397.57,518.97" fill="#3b4aa5"/>
<polygon points="1406.95,505.72 1421.35,505.72 1414.15,518.52" fill="#3b4aa5"/>
<polygon points="1423.52,506.84 1437.92,506.84 1430.72,519.64" fill="#3b4aa5"/>
<polygon points="1440.09,506.17 1454.49,506.17 1447.29,518.97" fill="#3b4aa5"/>
<polygon points="1456.66,506.84 1471.06,506.84 1463.86,519.64" fill="#3b4aa5"/>
<polygon points="1473.23,506.84 1487.63,506.84 1480.43,519.64" fill="#3b4aa5"/>
<path d="M897.10,516.70 C897.65,516.70 899.11,516.70 900.41,516.70 C901.72,516.70 903.20,516.70 904.96,516.70 C906.72,516.70 908.97,516.70 910.97,516.70 C912.98,516.70 915.06,516.70 916.99,516.70 C918.91,516.70 920.67,516.70 922.51,516.70 C924.35,516.70 926.19,516.70 928.03,516.70 C929.88,516.70 931.72,516.70 933.56,516.70 C935.40,516.70 937.24,516.70 939.08,516.70 C940.92,516.70 942.77,516.70 944.61,516.70 C946.45,516.70 948.29,516.70 950.13,516.70 C951.97,516.70 953.81,516.70 955.65,516.70 C957.50,516.70 959.34,516.70 961.18,516.70 C963.02,516.70 964.86,516.70 966.70,516.70 C968.54,516.70 970.39,516.70 972.23,516.70 C974.07,516.70 975.91,516.70 977.75,516.70 C979.59,516.70 981.43,516.67 983.27,516.70 C985.12,516.74 986.96,516.85 988.80,516.93 C990.64,517.00 992.48,517.19 994.32,517.15 C996.16,517.11 998.01,516.73 999.85,516.70 C1001.69,516.67 1003.53,517.00 1005.37,516.98 C1007.21,516.97 1009.05,517.65 1010.89,516.59 C1012.74,515.54 1014.58,513.89 1016.42,510.66 C1018.26,507.42 1020.10,502.58 1021.94,497.16 C1023.78,491.74 1025.63,485.20 1027.47,478.12 C1029.31,471.03 1031.15,463.75 1032.99,454.67 C1034.83,445.59 1036.67,434.72 1038.51,423.65 C1040.36,412.57 1042.20,398.99 1044.04,388.22 C1045.88,377.45 1047.72,367.12 1049.56,359.04 C1051.40,350.96 1053.25,345.14 1055.09,339.76 C1056.93,334.37 1058.77,330.07 1060.61,326.72 C1062.45,323.36 1064.29,320.73 1066.13,319.63 C1067.98,318.53 1069.82,319.18 1071.66,320.13 C1073.50,321.07 1075.34,323.16 1077.18,325.28 C1079.02,327.39 1080.87,330.15 1082.71,332.82 C1084.55,335.50 1086.39,338.50 1088.23,341.33 C1090.07,344.16 1091.91,347.47 1093.75,349.80 C1095.60,352.13 1097.44,353.77 1099.28,355.31 C1101.12,356.84 1102.96,357.54 1104.80,359.04 C1106.64,360.54 1108.49,362.52 1110.33,364.30 C1112.17,366.08 1114.01,367.58 1115.85,369.70 C1117.69,371.81 1119.53,374.13 1121.37,377.00 C1123.22,379.88 1125.06,383.79 1126.90,386.94 C1128.74,390.09 1130.58,393.08 1132.42,395.90 C1134.26,398.71 1136.11,401.25 1137.95,403.81 C1139.79,406.37 1141.63,408.30 1143.47,411.28 C1145.31,414.25 1147.15,418.32 1148.99,421.66 C1150.84,424.99 1152.68,428.12 1154.52,431.30 C1156.36,434.48 1158.20,437.97 1160.04,440.74 C1161.88,443.51 1163.73,445.91 1165.57,447.93 C1167.41,449.95 1169.25,451.40 1171.09,452.86 C1172.93,454.33 1174.77,455.69 1176.61,456.74 C1178.46,457.80 1180.30,457.92 1182.14,459.21 C1183.98,460.50 1185.82,462.71 1187.66,464.49 C1189.50,466.26 1191.35,468.39 1193.19,469.86 C1195.03,471.32 1196.87,471.85 1198.71,473.27 C1200.55,474.69 1202.39,476.99 1204.23,478.38 C1206.08,479.78 1207.92,480.91 1209.76,481.66 C1211.60,482.42 1213.44,482.22 1215.28,482.91 C1217.12,483.60 1218.97,485.06 1220.81,485.79 C1222.65,486.51 1224.49,486.98 1226.33,487.25 C1228.17,487.53 1230.01,487.14 1231.85,487.42 C1233.70,487.70 1235.54,488.47 1237.38,488.93 C1239.22,489.39 1241.06,489.73 1242.90,490.18 C1244.74,490.63 1246.59,491.17 1248.43,491.63 C1250.27,492.10 1252.11,492.86 1253.95,492.99 C1255.79,493.12 1257.63,492.61 1259.47,492.39 C1261.32,492.17 1263.16,491.62 1265.00,491.68 C1266.84,491.74 1268.68,492.31 1270.52,492.76 C1272.36,493.22 1274.21,494.09 1276.05,494.40 C1277.89,494.70 1279.73,493.92 1281.57,494.57 C1283.41,495.21 1285.25,497.69 1287.09,498.28 C1288.94,498.87 1290.78,497.78 1292.62,498.12 C1294.46,498.45 1296.30,499.57 1298.14,500.27 C1299.98,500.97 1301.83,501.96 1303.67,502.32 C1305.51,502.69 1307.35,502.53 1309.19,502.44 C1311.03,502.35 1312.87,501.91 1314.71,501.78 C1316.56,501.65 1318.40,501.51 1320.24,501.67 C1322.08,501.82 1323.92,502.68 1325.76,502.72 C1327.60,502.76 1329.45,502.17 1331.29,501.90 C1333.13,501.63 1334.97,500.96 1336.81,501.12 C1338.65,501.29 1340.49,502.76 1342.33,502.91 C1344.18,503.06 1346.02,502.07 1347.86,502.00 C1349.70,501.93 1351.54,502.29 1353.38,502.51 C1355.22,502.74 1357.07,503.38 1358.91,503.36 C1360.75,503.34 1362.59,502.23 1364.43,502.40 C1366.27,502.57 1368.11,504.19 1369.95,504.39 C1371.80,504.60 1373.64,503.61 1375.48,503.60 C1377.32,503.60 1379.16,504.13 1381.00,504.34 C1382.84,504.56 1384.69,504.96 1386.53,504.90 C1388.37,504.84 1390.21,503.90 1392.05,504.00 C1393.89,504.11 1395.73,505.12 1397.57,505.54 C1399.42,505.97 1401.26,506.59 1403.10,506.57 C1404.94,506.55 1406.78,505.69 1408.62,505.43 C1410.46,505.17 1412.31,504.99 1414.15,505.02 C1415.99,505.04 1417.83,505.58 1419.67,505.60 C1421.51,505.61 1423.35,505.23 1425.19,505.12 C1427.04,505.01 1428.88,504.64 1430.72,504.92 C1432.56,505.21 1434.40,506.51 1436.24,506.84 C1438.08,507.16 1439.93,506.93 1441.77,506.89 C1443.61,506.86 1445.45,506.66 1447.29,506.60 C1449.13,506.54 1450.97,506.38 1452.81,506.56 C1454.66,506.73 1456.50,507.61 1458.34,507.66 C1460.18,507.72 1462.00,506.92 1463.86,506.88 C1465.72,506.83 1467.63,507.09 1469.51,507.40 C1471.39,507.72 1473.34,508.90 1475.16,508.79 C1476.98,508.68 1478.28,506.69 1480.43,506.74 C1482.59,506.78 1485.89,508.90 1488.10,509.07 C1490.31,509.23 1492.76,507.96 1493.69,507.74" fill="none" stroke="#a678c8" stroke-width="2.2" stroke-linejoin="round"/>
<polygon points="900.41,509.30 907.81,516.70 900.41,524.10 893.01,516.70" fill="#66c6da"/>
<polygon points="916.99,509.30 924.39,516.70 916.99,524.10 909.59,516.70" fill="#66c6da"/>
<polygon points="933.56,509.30 940.96,516.70 933.56,524.10 926.16,516.70" fill="#66c6da"/>
<polygon points="950.13,509.30 957.53,516.70 950.13,524.10 942.73,516.70" fill="#66c6da"/>
<polygon points="966.70,509.30 974.10,516.70 966.70,524.10 959.30,516.70" fill="#66c6da"/>
<polygon points="983.27,509.30 990.67,516.70 983.27,524.10 975.87,516.70" fill="#66c6da"/>
<polygon points="999.85,509.30 1007.25,516.70 999.85,524.10 992.45,516.70" fill="#66c6da"/>
<polygon points="1016.42,503.26 1023.82,510.66 1016.42,518.06 1009.02,510.66" fill="#66c6da"/>
<polygon points="1032.99,447.27 1040.39,454.67 1032.99,462.07 1025.59,454.67" fill="#66c6da"/>
<polygon points="1049.56,351.64 1056.96,359.04 1049.56,366.44 1042.16,359.04" fill="#66c6da"/>
<polygon points="1066.13,312.23 1073.53,319.63 1066.13,327.03 1058.73,319.63" fill="#66c6da"/>
<polygon points="1082.71,326.34 1090.11,333.74 1082.71,341.14 1075.31,333.74" fill="#66c6da"/>
<polygon points="1099.28,348.06 1106.68,355.46 1099.28,362.86 1091.88,355.46" fill="#66c6da"/>
<polygon points="1115.85,361.94 1123.25,369.34 1115.85,376.74 1108.45,369.34" fill="#66c6da"/>
<polygon points="1132.42,389.27 1139.82,396.67 1132.42,404.07 1125.02,396.67" fill="#66c6da"/>
<polygon points="1148.99,413.23 1156.39,420.63 1148.99,428.03 1141.59,420.63" fill="#66c6da"/>
<polygon points="1165.57,440.55 1172.97,447.95 1165.57,455.35 1158.17,447.95" fill="#66c6da"/>
<polygon points="1182.14,452.87 1189.54,460.27 1182.14,467.67 1174.74,460.27" fill="#66c6da"/>
<polygon points="1198.71,466.75 1206.11,474.15 1198.71,481.55 1191.31,474.15" fill="#66c6da"/>
<polygon points="1215.28,476.83 1222.68,484.23 1215.28,491.63 1207.88,484.23" fill="#66c6da"/>
<polygon points="1231.85,479.97 1239.25,487.37 1231.85,494.77 1224.45,487.37" fill="#66c6da"/>
<polygon points="1248.43,485.56 1255.83,492.96 1248.43,500.36 1241.03,492.96" fill="#66c6da"/>
<polygon points="1265.00,485.56 1272.40,492.96 1265.00,500.36 1257.60,492.96" fill="#66c6da"/>
<polygon points="1281.57,488.25 1288.97,495.65 1281.57,503.05 1274.17,495.65" fill="#66c6da"/>
<polygon points="1298.14,492.95 1305.54,500.35 1298.14,507.75 1290.74,500.35" fill="#66c6da"/>
<polygon points="1314.71,494.75 1322.11,502.15 1314.71,509.55 1307.31,502.15" fill="#66c6da"/>
<polygon points="1331.29,494.75 1338.69,502.15 1331.29,509.55 1323.89,502.15" fill="#66c6da"/>
<polygon points="1347.86,494.75 1355.26,502.15 1347.86,509.55 1340.46,502.15" fill="#66c6da"/>
<polygon points="1364.43,495.87 1371.83,503.27 1364.43,510.67 1357.03,503.27" fill="#66c6da"/>
<polygon points="1381.00,496.99 1388.40,504.39 1381.00,511.79 1373.60,504.39" fill="#66c6da"/>
<polygon points="1397.57,498.11 1404.97,505.50 1397.57,512.90 1390.17,505.50" fill="#66c6da"/>
<polygon points="1414.15,498.11 1421.55,505.50 1414.15,512.90 1406.75,505.50" fill="#66c6da"/>
<polygon points="1430.72,498.78 1438.12,506.18 1430.72,513.58 1423.32,506.18" fill="#66c6da"/>
<polygon points="1447.29,499.22 1454.69,506.62 1447.29,514.02 1439.89,506.62" fill="#66c6da"/>
<polygon points="1463.86,499.90 1471.26,507.30 1463.86,514.70 1456.46,507.30" fill="#66c6da"/>
<polygon points="1480.43,500.34 1487.83,507.74 1480.43,515.14 1473.03,507.74" fill="#66c6da"/>
<mask id="mbx350" maskUnits="userSpaceOnUse" x="0" y="0" width="1500" height="641"><rect width="1500" height="641" fill="#fff"/><rect x="897.11" y="507.20" width="6.60" height="19.00" fill="#000"/><rect x="913.69" y="507.20" width="6.60" height="19.00" fill="#000"/><rect x="930.26" y="507.20" width="6.60" height="19.00" fill="#000"/><rect x="946.83" y="507.20" width="6.60" height="19.00" fill="#000"/><rect x="963.40" y="507.20" width="6.60" height="19.00" fill="#000"/><rect x="979.97" y="503.84" width="6.60" height="19.00" fill="#000"/><rect x="996.55" y="450.77" width="6.60" height="19.00" fill="#000"/><rect x="1013.12" y="187.63" width="6.60" height="19.00" fill="#000"/><rect x="1029.69" y="159.18" width="6.60" height="19.00" fill="#000"/><rect x="1046.26" y="215.62" width="6.60" height="19.00" fill="#000"/><rect x="1062.83" y="250.11" width="6.60" height="19.00" fill="#000"/><rect x="1079.41" y="271.83" width="6.60" height="19.00" fill="#000"/><rect x="1095.98" y="289.75" width="6.60" height="19.00" fill="#000"/><rect x="1112.55" y="305.42" width="6.60" height="19.00" fill="#000"/><rect x="1129.12" y="319.08" width="6.60" height="19.00" fill="#000"/><rect x="1145.69" y="327.82" width="6.60" height="19.00" fill="#000"/><rect x="1162.27" y="354.92" width="6.60" height="19.00" fill="#000"/><rect x="1178.84" y="369.03" width="6.60" height="19.00" fill="#000"/><rect x="1195.41" y="382.91" width="6.60" height="19.00" fill="#000"/><rect x="1211.98" y="388.73" width="6.60" height="19.00" fill="#000"/><rect x="1228.55" y="394.78" width="6.60" height="19.00" fill="#000"/><rect x="1245.13" y="403.74" width="6.60" height="19.00" fill="#000"/><rect x="1261.70" y="409.56" width="6.60" height="19.00" fill="#000"/><rect x="1278.27" y="421.65" width="6.60" height="19.00" fill="#000"/><rect x="1294.84" y="427.25" width="6.60" height="19.00" fill="#000"/><rect x="1311.41" y="437.33" width="6.60" height="19.00" fill="#000"/><rect x="1327.99" y="447.18" width="6.60" height="19.00" fill="#000"/><rect x="1344.56" y="464.65" width="6.60" height="19.00" fill="#000"/><rect x="1361.13" y="475.18" width="6.60" height="19.00" fill="#000"/><rect x="1377.70" y="478.31" width="6.60" height="19.00" fill="#000"/><rect x="1394.27" y="480.78" width="6.60" height="19.00" fill="#000"/><rect x="1410.85" y="483.46" width="6.60" height="19.00" fill="#000"/><rect x="1427.42" y="480.78" width="6.60" height="19.00" fill="#000"/><rect x="1443.99" y="482.57" width="6.60" height="19.00" fill="#000"/><rect x="1460.56" y="481.45" width="6.60" height="19.00" fill="#000"/><rect x="1477.13" y="485.26" width="6.60" height="19.00" fill="#000"/></mask>
<path d="M897.10,516.70 C897.65,516.70 899.11,516.70 900.41,516.70 C901.72,516.70 903.20,516.70 904.96,516.70 C906.72,516.70 908.97,516.70 910.97,516.70 C912.98,516.70 915.06,516.70 916.99,516.70 C918.91,516.70 920.67,516.70 922.51,516.70 C924.35,516.70 926.19,516.70 928.03,516.70 C929.88,516.70 931.72,516.70 933.56,516.70 C935.40,516.70 937.24,516.70 939.08,516.70 C940.92,516.70 942.77,516.70 944.61,516.70 C946.45,516.70 948.29,516.69 950.13,516.70 C951.97,516.72 953.81,516.77 955.65,516.80 C957.50,516.84 959.34,516.92 961.18,516.90 C963.02,516.88 964.80,516.82 966.70,516.70 C968.61,516.59 970.63,516.43 972.59,516.22 C974.56,516.01 976.71,515.81 978.49,515.44 C980.27,515.07 981.37,515.67 983.27,514.02 C985.18,512.36 987.99,509.43 989.90,505.50 C991.82,501.58 993.11,498.01 994.77,490.47 C996.43,482.93 998.29,475.21 999.85,460.27 C1001.40,445.33 1002.71,422.47 1004.09,400.82 C1005.47,379.17 1006.74,354.15 1008.13,330.38 C1009.53,306.60 1011.08,280.40 1012.46,258.19 C1013.84,235.99 1014.88,214.13 1016.42,197.13 C1017.96,180.12 1020.23,164.09 1021.72,156.14 C1023.21,148.19 1024.21,149.80 1025.37,149.42 C1026.53,149.05 1027.41,150.69 1028.68,153.90 C1029.95,157.11 1031.50,163.63 1032.99,168.68 C1034.48,173.74 1035.84,177.77 1037.61,184.23 C1039.37,190.70 1041.59,200.74 1043.58,207.49 C1045.58,214.24 1047.65,219.33 1049.56,224.73 C1051.48,230.13 1053.25,235.61 1055.09,239.89 C1056.93,244.18 1058.77,247.00 1060.61,250.45 C1062.45,253.90 1064.29,257.49 1066.13,260.59 C1067.98,263.70 1069.82,266.56 1071.66,269.08 C1073.50,271.61 1075.34,273.66 1077.18,275.73 C1079.02,277.80 1080.87,279.53 1082.71,281.50 C1084.55,283.47 1086.39,285.39 1088.23,287.55 C1090.07,289.70 1091.91,292.49 1093.75,294.43 C1095.60,296.37 1097.44,297.26 1099.28,299.19 C1101.12,301.12 1102.96,304.11 1104.80,306.01 C1106.64,307.90 1108.49,309.22 1110.33,310.57 C1112.17,311.93 1114.01,312.81 1115.85,314.13 C1117.69,315.45 1119.53,316.81 1121.37,318.51 C1123.22,320.21 1125.06,322.83 1126.90,324.31 C1128.74,325.80 1130.58,326.40 1132.42,327.41 C1134.26,328.41 1136.11,329.20 1137.95,330.35 C1139.79,331.51 1141.63,332.99 1143.47,334.32 C1145.31,335.65 1147.15,336.68 1148.99,338.33 C1150.84,339.98 1152.68,341.15 1154.52,344.24 C1156.36,347.34 1158.20,353.59 1160.04,356.89 C1161.88,360.19 1163.73,361.77 1165.57,364.05 C1167.41,366.32 1169.25,368.75 1171.09,370.53 C1172.93,372.32 1174.77,373.28 1176.61,374.78 C1178.46,376.27 1180.30,378.17 1182.14,379.50 C1183.98,380.83 1185.82,381.18 1187.66,382.77 C1189.50,384.36 1191.35,387.56 1193.19,389.03 C1195.03,390.50 1196.87,390.53 1198.71,391.60 C1200.55,392.68 1202.39,394.68 1204.23,395.48 C1206.08,396.28 1207.92,395.83 1209.76,396.41 C1211.60,397.00 1213.44,398.21 1215.28,399.01 C1217.12,399.82 1218.97,400.61 1220.81,401.23 C1222.65,401.84 1224.49,402.38 1226.33,402.72 C1228.17,403.06 1230.01,402.45 1231.85,403.28 C1233.70,404.11 1235.54,406.42 1237.38,407.71 C1239.22,409.00 1241.06,410.20 1242.90,411.03 C1244.74,411.87 1246.59,412.07 1248.43,412.72 C1250.27,413.38 1252.11,414.35 1253.95,414.97 C1255.79,415.59 1257.63,415.91 1259.47,416.42 C1261.32,416.93 1263.16,417.02 1265.00,418.04 C1266.84,419.07 1268.68,421.13 1270.52,422.58 C1272.36,424.03 1274.21,425.29 1276.05,426.75 C1277.89,428.21 1279.73,430.46 1281.57,431.35 C1283.41,432.24 1285.25,431.46 1287.09,432.06 C1288.94,432.67 1290.78,434.36 1292.62,434.99 C1294.46,435.63 1296.30,435.04 1298.14,435.87 C1299.98,436.69 1301.83,438.53 1303.67,439.93 C1305.51,441.33 1307.35,443.04 1309.19,444.29 C1311.03,445.54 1312.87,446.50 1314.71,447.43 C1316.56,448.37 1318.40,448.87 1320.24,449.89 C1322.08,450.91 1323.92,452.62 1325.76,453.56 C1327.60,454.50 1329.45,453.99 1331.29,455.55 C1333.13,457.10 1334.97,460.71 1336.81,462.91 C1338.65,465.12 1340.49,467.11 1342.33,468.76 C1344.18,470.42 1346.02,471.06 1347.86,472.82 C1349.70,474.58 1351.54,477.64 1353.38,479.33 C1355.22,481.01 1357.07,482.08 1358.91,482.92 C1360.75,483.76 1362.59,483.71 1364.43,484.37 C1366.27,485.04 1368.11,486.65 1369.95,486.89 C1371.80,487.14 1373.64,485.53 1375.48,485.83 C1377.32,486.14 1379.16,488.41 1381.00,488.73 C1382.84,489.04 1384.69,487.55 1386.53,487.72 C1388.37,487.89 1390.21,489.50 1392.05,489.75 C1393.89,490.00 1395.73,489.17 1397.57,489.22 C1399.42,489.27 1401.26,489.74 1403.10,490.06 C1404.94,490.38 1406.78,490.52 1408.62,491.13 C1410.46,491.74 1412.31,493.69 1414.15,493.72 C1415.99,493.75 1417.83,491.74 1419.67,491.30 C1421.51,490.86 1423.35,491.41 1425.19,491.09 C1427.04,490.78 1428.88,489.28 1430.72,489.41 C1432.56,489.54 1434.40,491.44 1436.24,491.87 C1438.08,492.29 1439.93,491.76 1441.77,491.95 C1443.61,492.14 1445.45,492.88 1447.29,493.03 C1449.13,493.17 1450.97,493.15 1452.81,492.84 C1454.66,492.54 1456.50,491.34 1458.34,491.20 C1460.18,491.06 1462.00,491.91 1463.86,492.00 C1465.72,492.08 1467.63,491.39 1469.51,491.71 C1471.39,492.03 1473.34,493.61 1475.16,493.94 C1476.98,494.27 1478.28,493.44 1480.43,493.68 C1482.59,493.92 1485.89,494.98 1488.10,495.38 C1490.31,495.79 1492.76,495.98 1493.69,496.10" fill="none" stroke="#d09a2a" stroke-width="2.2" stroke-linejoin="round" mask="url(#mbx350)"/>
<polygon points="892.08,516.70 904.58,509.60 904.58,523.80" fill="#c04a9e"/>
<polygon points="908.65,516.70 921.15,509.60 921.15,523.80" fill="#c04a9e"/>
<polygon points="925.23,516.70 937.73,509.60 937.73,523.80" fill="#c04a9e"/>
<polygon points="941.80,516.70 954.30,509.60 954.30,523.80" fill="#c04a9e"/>
<polygon points="958.37,516.70 970.87,509.60 970.87,523.80" fill="#c04a9e"/>
<polygon points="974.94,513.34 987.44,506.24 987.44,520.44" fill="#c04a9e"/>
<polygon points="991.51,460.27 1004.01,453.17 1004.01,467.37" fill="#c04a9e"/>
<polygon points="1008.09,197.13 1020.59,190.03 1020.59,204.23" fill="#c04a9e"/>
<polygon points="1024.66,168.68 1037.16,161.58 1037.16,175.78" fill="#c04a9e"/>
<polygon points="1041.23,225.12 1053.73,218.02 1053.73,232.22" fill="#c04a9e"/>
<polygon points="1057.80,259.61 1070.30,252.51 1070.30,266.71" fill="#c04a9e"/>
<polygon points="1074.37,281.33 1086.87,274.23 1086.87,288.43" fill="#c04a9e"/>
<polygon points="1090.95,299.25 1103.45,292.15 1103.45,306.35" fill="#c04a9e"/>
<polygon points="1107.52,314.92 1120.02,307.82 1120.02,322.02" fill="#c04a9e"/>
<polygon points="1124.09,328.58 1136.59,321.48 1136.59,335.68" fill="#c04a9e"/>
<polygon points="1140.66,337.32 1153.16,330.22 1153.16,344.42" fill="#c04a9e"/>
<polygon points="1157.23,364.42 1169.73,357.32 1169.73,371.52" fill="#c04a9e"/>
<polygon points="1173.81,378.53 1186.31,371.43 1186.31,385.63" fill="#c04a9e"/>
<polygon points="1190.38,392.41 1202.88,385.31 1202.88,399.51" fill="#c04a9e"/>
<polygon points="1206.95,398.23 1219.45,391.13 1219.45,405.33" fill="#c04a9e"/>
<polygon points="1223.52,404.28 1236.02,397.18 1236.02,411.38" fill="#c04a9e"/>
<polygon points="1240.09,413.24 1252.59,406.14 1252.59,420.34" fill="#c04a9e"/>
<polygon points="1256.67,419.06 1269.17,411.96 1269.17,426.16" fill="#c04a9e"/>
<polygon points="1273.24,431.15 1285.74,424.05 1285.74,438.25" fill="#c04a9e"/>
<polygon points="1289.81,436.75 1302.31,429.65 1302.31,443.85" fill="#c04a9e"/>
<polygon points="1306.38,446.83 1318.88,439.73 1318.88,453.93" fill="#c04a9e"/>
<polygon points="1322.95,456.68 1335.45,449.58 1335.45,463.78" fill="#c04a9e"/>
<polygon points="1339.53,474.15 1352.03,467.05 1352.03,481.25" fill="#c04a9e"/>
<polygon points="1356.10,484.68 1368.60,477.58 1368.60,491.78" fill="#c04a9e"/>
<polygon points="1372.67,487.81 1385.17,480.71 1385.17,494.91" fill="#c04a9e"/>
<polygon points="1389.24,490.28 1401.74,483.18 1401.74,497.38" fill="#c04a9e"/>
<polygon points="1405.81,492.96 1418.31,485.86 1418.31,500.06" fill="#c04a9e"/>
<polygon points="1422.39,490.28 1434.89,483.18 1434.89,497.38" fill="#c04a9e"/>
<polygon points="1438.96,492.07 1451.46,484.97 1451.46,499.17" fill="#c04a9e"/>
<polygon points="1455.53,490.95 1468.03,483.85 1468.03,498.05" fill="#c04a9e"/>
<polygon points="1472.10,494.76 1484.60,487.66 1484.60,501.86" fill="#c04a9e"/></g>
<rect x="137.90" y="58.20" width="596.47" height="481.00" fill="none" stroke="#000" stroke-width="2.6"/>
<line x1="128.40" y1="515.70" x2="137.90" y2="515.70" stroke="#000" stroke-width="2.6"/>
<line x1="128.40" y1="401.23" x2="137.90" y2="401.23" stroke="#000" stroke-width="2.6"/>
<line x1="128.40" y1="286.75" x2="137.90" y2="286.75" stroke="#000" stroke-width="2.6"/>
<line x1="128.40" y1="172.28" x2="137.90" y2="172.28" stroke="#000" stroke-width="2.6"/>
<line x1="128.40" y1="57.80" x2="137.90" y2="57.80" stroke="#000" stroke-width="2.6"/>
<line x1="132.60" y1="458.46" x2="137.90" y2="458.46" stroke="#000" stroke-width="2.6"/>
<line x1="132.60" y1="343.99" x2="137.90" y2="343.99" stroke="#000" stroke-width="2.6"/>
<line x1="132.60" y1="229.51" x2="137.90" y2="229.51" stroke="#000" stroke-width="2.6"/>
<line x1="132.60" y1="115.04" x2="137.90" y2="115.04" stroke="#000" stroke-width="2.6"/>
<line x1="137.90" y1="539.20" x2="137.90" y2="548.70" stroke="#000" stroke-width="2.6"/>
<line x1="303.59" y1="539.20" x2="303.59" y2="548.70" stroke="#000" stroke-width="2.6"/>
<line x1="469.27" y1="539.20" x2="469.27" y2="548.70" stroke="#000" stroke-width="2.6"/>
<line x1="634.96" y1="539.20" x2="634.96" y2="548.70" stroke="#000" stroke-width="2.6"/>
<line x1="220.74" y1="539.20" x2="220.74" y2="544.50" stroke="#000" stroke-width="2.6"/>
<line x1="386.43" y1="539.20" x2="386.43" y2="544.50" stroke="#000" stroke-width="2.6"/>
<line x1="552.11" y1="539.20" x2="552.11" y2="544.50" stroke="#000" stroke-width="2.6"/>
<line x1="717.80" y1="539.20" x2="717.80" y2="544.50" stroke="#000" stroke-width="2.6"/>
<rect x="897.10" y="58.20" width="596.59" height="481.00" fill="none" stroke="#000" stroke-width="2.6"/>
<line x1="887.60" y1="527.90" x2="897.10" y2="527.90" stroke="#000" stroke-width="2.6"/>
<line x1="887.60" y1="415.92" x2="897.10" y2="415.92" stroke="#000" stroke-width="2.6"/>
<line x1="887.60" y1="303.95" x2="897.10" y2="303.95" stroke="#000" stroke-width="2.6"/>
<line x1="887.60" y1="191.98" x2="897.10" y2="191.98" stroke="#000" stroke-width="2.6"/>
<line x1="887.60" y1="80.00" x2="897.10" y2="80.00" stroke="#000" stroke-width="2.6"/>
<line x1="891.80" y1="471.91" x2="897.10" y2="471.91" stroke="#000" stroke-width="2.6"/>
<line x1="891.80" y1="359.94" x2="897.10" y2="359.94" stroke="#000" stroke-width="2.6"/>
<line x1="891.80" y1="247.96" x2="897.10" y2="247.96" stroke="#000" stroke-width="2.6"/>
<line x1="891.80" y1="135.99" x2="897.10" y2="135.99" stroke="#000" stroke-width="2.6"/>
<line x1="897.10" y1="539.20" x2="897.10" y2="548.70" stroke="#000" stroke-width="2.6"/>
<line x1="1062.82" y1="539.20" x2="1062.82" y2="548.70" stroke="#000" stroke-width="2.6"/>
<line x1="1228.54" y1="539.20" x2="1228.54" y2="548.70" stroke="#000" stroke-width="2.6"/>
<line x1="1394.26" y1="539.20" x2="1394.26" y2="548.70" stroke="#000" stroke-width="2.6"/>
<line x1="979.96" y1="539.20" x2="979.96" y2="544.50" stroke="#000" stroke-width="2.6"/>
<line x1="1145.68" y1="539.20" x2="1145.68" y2="544.50" stroke="#000" stroke-width="2.6"/>
<line x1="1311.40" y1="539.20" x2="1311.40" y2="544.50" stroke="#000" stroke-width="2.6"/>
<line x1="1477.12" y1="539.20" x2="1477.12" y2="544.50" stroke="#000" stroke-width="2.6"/>
<text transform="translate(122.30,526.10) scale(1,1.080)" font-size="30.30" font-weight="bold" text-anchor="end" >0</text>
<text transform="translate(122.30,411.62) scale(1,1.080)" font-size="30.30" font-weight="bold" text-anchor="end" >500</text>
<text transform="translate(122.30,297.15) scale(1,1.080)" font-size="30.30" font-weight="bold" text-anchor="end" >1000</text>
<text transform="translate(122.30,182.68) scale(1,1.080)" font-size="30.30" font-weight="bold" text-anchor="end" >1500</text>
<text transform="translate(122.30,68.20) scale(1,1.080)" font-size="30.30" font-weight="bold" text-anchor="end" >2000</text>
<text transform="translate(881.20,538.30) scale(1,1.080)" font-size="30.30" font-weight="bold" text-anchor="end" >0.0</text>
<text transform="translate(881.20,426.32) scale(1,1.080)" font-size="30.30" font-weight="bold" text-anchor="end" >0.5</text>
<text transform="translate(881.20,314.35) scale(1,1.080)" font-size="30.30" font-weight="bold" text-anchor="end" >1.0</text>
<text transform="translate(881.20,202.38) scale(1,1.080)" font-size="30.30" font-weight="bold" text-anchor="end" >1.5</text>
<text transform="translate(881.20,90.40) scale(1,1.080)" font-size="30.30" font-weight="bold" text-anchor="end" >2.0</text>
<text transform="translate(137.90,578.60) scale(1,1.080)" font-size="30.30" font-weight="bold" text-anchor="middle" >0</text>
<text transform="translate(897.10,578.60) scale(1,1.080)" font-size="30.30" font-weight="bold" text-anchor="middle" >0</text>
<text transform="translate(303.59,578.60) scale(1,1.080)" font-size="30.30" font-weight="bold" text-anchor="middle" >50</text>
<text transform="translate(1062.82,578.60) scale(1,1.080)" font-size="30.30" font-weight="bold" text-anchor="middle" >50</text>
<text transform="translate(469.27,578.60) scale(1,1.080)" font-size="30.30" font-weight="bold" text-anchor="middle" >100</text>
<text transform="translate(1228.54,578.60) scale(1,1.080)" font-size="30.30" font-weight="bold" text-anchor="middle" >100</text>
<text transform="translate(634.96,578.60) scale(1,1.080)" font-size="30.30" font-weight="bold" text-anchor="middle" >150</text>
<text transform="translate(1394.26,578.60) scale(1,1.080)" font-size="30.30" font-weight="bold" text-anchor="middle" >150</text>
<text x="436.13" y="628.70" font-size="32.00" font-weight="bold" text-anchor="middle" >Time (min)</text>
<text x="1195.40" y="628.70" font-size="32.00" font-weight="bold" text-anchor="middle" >Time (min)</text>
<text transform="translate(37.8,290.7) rotate(-90)" font-size="32" font-weight="bold" text-anchor="middle">CO (ppm)</text>
<text transform="translate(813,292) rotate(-90)" font-size="32" font-weight="bold" text-anchor="middle">CO<tspan font-size="21.5" dy="8.2">2</tspan><tspan dy="-8.2"> (%)</tspan></text>
<text x="3.50" y="33.70" font-size="42.00" font-weight="bold" text-anchor="start" >(a)</text>
<text x="767.00" y="33.70" font-size="42.00" font-weight="bold" text-anchor="start" >(b)</text>
<line x1="550.90" y1="99.80" x2="619.50" y2="99.80" stroke="#484848" stroke-width="2.1"/>
<rect x="579.80" y="94.40" width="10.80" height="10.80" fill="#000000"/>
<text transform="translate(626.40,110.10) scale(1,1.090)" font-size="29.20" font-weight="normal" text-anchor="start" >100 °C</text>
<line x1="550.90" y1="136.25" x2="619.50" y2="136.25" stroke="#e8262a" stroke-width="2.1"/>
<circle cx="585.20" cy="136.25" r="6.00" fill="#e8262a"/>
<text transform="translate(626.40,146.55) scale(1,1.090)" font-size="29.20" font-weight="normal" text-anchor="start" >150 °C</text>
<line x1="550.90" y1="172.70" x2="619.50" y2="172.70" stroke="#3a6fc0" stroke-width="2.1"/>
<polygon points="585.20,164.03 592.00,177.03 578.40,177.03" fill="#5dbb46"/>
<text transform="translate(626.40,183.00) scale(1,1.090)" font-size="29.20" font-weight="normal" text-anchor="start" >200 °C</text>
<line x1="550.90" y1="209.15" x2="619.50" y2="209.15" stroke="#1a9a4a" stroke-width="2.1"/>
<polygon points="578.00,204.88 592.40,204.88 585.20,217.68" fill="#3b4aa5"/>
<text transform="translate(626.40,219.45) scale(1,1.090)" font-size="29.20" font-weight="normal" text-anchor="start" >250 °C</text>
<line x1="550.90" y1="245.60" x2="619.50" y2="245.60" stroke="#a678c8" stroke-width="2.1"/>
<polygon points="585.20,238.20 592.60,245.60 585.20,253.00 577.80,245.60" fill="#66c6da"/>
<text transform="translate(626.40,255.90) scale(1,1.090)" font-size="29.20" font-weight="normal" text-anchor="start" >300 °C</text>
<line x1="550.90" y1="282.05" x2="619.50" y2="282.05" stroke="#d09a2a" stroke-width="2.1"/>
<polygon points="576.87,282.05 589.37,274.95 589.37,289.15" fill="#c04a9e"/>
<text transform="translate(626.40,292.35) scale(1,1.090)" font-size="29.20" font-weight="normal" text-anchor="start" >350 °C</text>
<line x1="1312.20" y1="102.00" x2="1380.80" y2="102.00" stroke="#484848" stroke-width="2.1"/>
<rect x="1341.10" y="96.60" width="10.80" height="10.80" fill="#000000"/>
<text transform="translate(1387.70,112.30) scale(1,1.090)" font-size="29.20" font-weight="normal" text-anchor="start" >100 °C</text>
<line x1="1312.20" y1="138.45" x2="1380.80" y2="138.45" stroke="#e8262a" stroke-width="2.1"/>
<circle cx="1346.50" cy="138.45" r="6.00" fill="#e8262a"/>
<text transform="translate(1387.70,148.75) scale(1,1.090)" font-size="29.20" font-weight="normal" text-anchor="start" >150 °C</text>
<line x1="1312.20" y1="174.90" x2="1380.80" y2="174.90" stroke="#3a6fc0" stroke-width="2.1"/>
<polygon points="1346.50,166.23 1353.30,179.23 1339.70,179.23" fill="#5dbb46"/>
<text transform="translate(1387.70,185.20) scale(1,1.090)" font-size="29.20" font-weight="normal" text-anchor="start" >200 °C</text>
<line x1="1312.20" y1="211.35" x2="1380.80" y2="211.35" stroke="#1a9a4a" stroke-width="2.1"/>
<polygon points="1339.30,207.08 1353.70,207.08 1346.50,219.88" fill="#3b4aa5"/>
<text transform="translate(1387.70,221.65) scale(1,1.090)" font-size="29.20" font-weight="normal" text-anchor="start" >250 °C</text>
<line x1="1312.20" y1="247.80" x2="1380.80" y2="247.80" stroke="#a678c8" stroke-width="2.1"/>
<polygon points="1346.50,240.40 1353.90,247.80 1346.50,255.20 1339.10,247.80" fill="#66c6da"/>
<text transform="translate(1387.70,258.10) scale(1,1.090)" font-size="29.20" font-weight="normal" text-anchor="start" >300 °C</text>
<line x1="1312.20" y1="284.25" x2="1380.80" y2="284.25" stroke="#d09a2a" stroke-width="2.1"/>
<polygon points="1338.17,284.25 1350.67,277.15 1350.67,291.35" fill="#c04a9e"/>
<text transform="translate(1387.70,294.55) scale(1,1.090)" font-size="29.20" font-weight="normal" text-anchor="start" >350 °C</text>
</svg>
</body></html>
